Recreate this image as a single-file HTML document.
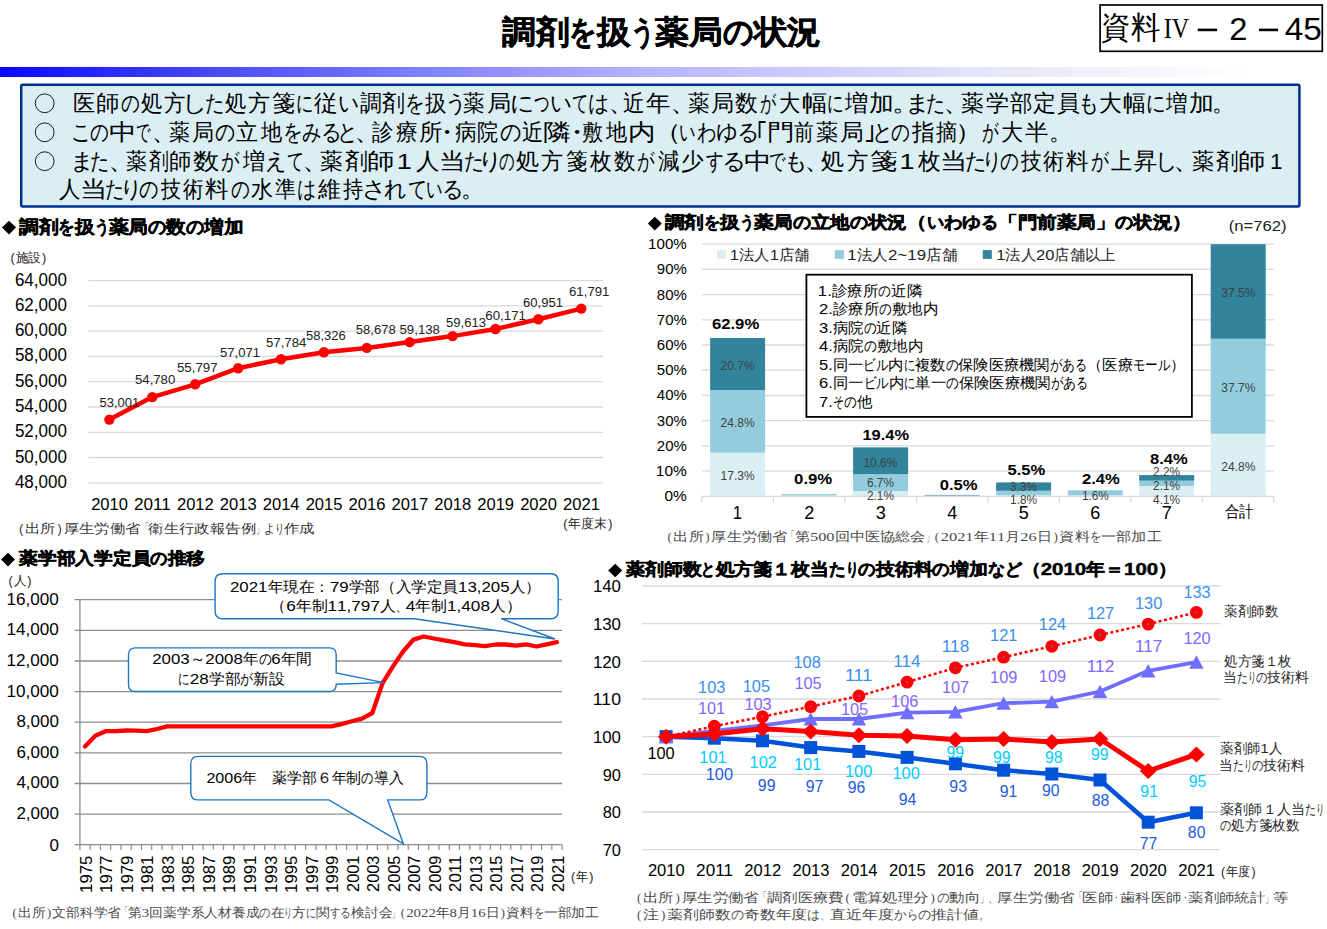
<!DOCTYPE html>
<html><head><meta charset="utf-8"><style>
html,body{margin:0;padding:0;background:#fff;overflow:hidden;width:1327px;height:929px;}
svg{display:block;}
</style></head><body>
<svg width="1327" height="929" viewBox="0 0 1327 929" font-family="'Liberation Sans', sans-serif">
<rect width="1327" height="929" fill="#fff"/>
<g font-size="32" font-weight="bold" fill="#000" stroke="#000" stroke-width="0.5"><text x="502.00" y="42.50" textLength="33.71" lengthAdjust="spacingAndGlyphs">調</text><text x="535.71" y="42.50" textLength="33.71" lengthAdjust="spacingAndGlyphs">剤</text><text x="569.41" y="42.50" textLength="27.94" lengthAdjust="spacingAndGlyphs">を</text><text x="597.35" y="42.50" textLength="33.71" lengthAdjust="spacingAndGlyphs">扱</text><text x="631.06" y="42.50" textLength="24.16" lengthAdjust="spacingAndGlyphs">う</text><text x="655.22" y="42.50" textLength="33.71" lengthAdjust="spacingAndGlyphs">薬</text><text x="688.92" y="42.50" textLength="33.71" lengthAdjust="spacingAndGlyphs">局</text><text x="722.63" y="42.50" textLength="30.96" lengthAdjust="spacingAndGlyphs">の</text><text x="753.59" y="42.50" textLength="33.71" lengthAdjust="spacingAndGlyphs">状</text><text x="787.29" y="42.50" textLength="33.71" lengthAdjust="spacingAndGlyphs">況</text></g>
<rect x="1100.1" y="5" width="222.2" height="46.3" fill="none" stroke="#000" stroke-width="1.7"/>
<g font-size="31" fill="#000"><text x="1101.30" y="37.80" textLength="29.30" lengthAdjust="spacingAndGlyphs">資</text><text x="1130.60" y="37.80" textLength="29.30" lengthAdjust="spacingAndGlyphs">料</text></g>
<text x="1163.80" y="37.90" font-size="30" font-family="'Liberation Serif', serif" textLength="25.43" lengthAdjust="spacingAndGlyphs" fill="#000">IV</text>
<rect x="1197.7" y="28.6" width="19.4" height="2.6" fill="#000"/>
<rect x="1258.9" y="28.6" width="19.1" height="2.6" fill="#000"/>
<text x="1229.35" y="39.70" font-size="31" textLength="18.16" lengthAdjust="spacingAndGlyphs" fill="#000">2</text>
<text x="1284.70" y="39.70" font-size="31" textLength="37.14" lengthAdjust="spacingAndGlyphs" fill="#000">45</text>
<defs><linearGradient id="gb" x1="0" x2="1" y1="0" y2="0"><stop offset="0" stop-color="#0808FF"/><stop offset="0.15" stop-color="#4545FF"/><stop offset="0.30" stop-color="#7A7AFF"/><stop offset="0.49" stop-color="#B5B5FF"/><stop offset="0.75" stop-color="#E6E6FA"/><stop offset="0.94" stop-color="#FFFFFF"/><stop offset="1" stop-color="#FFFFFF"/></linearGradient></defs>
<rect x="0" y="67" width="1327" height="10" fill="url(#gb)"/>
<rect x="21.2" y="84.7" width="1278.2" height="121.8" rx="1.5" fill="#DAEEF3" stroke="#00308F" stroke-width="2.5"/>
<circle cx="44.7" cy="103.3" r="9.4" fill="none" stroke="#111" stroke-width="0.95"/>
<circle cx="44.7" cy="132.3" r="9.4" fill="none" stroke="#111" stroke-width="0.95"/>
<circle cx="44.7" cy="161.2" r="9.4" fill="none" stroke="#111" stroke-width="0.95"/>
<g font-size="22.5" fill="#000"><text x="73.04" y="110.80" textLength="22.16" lengthAdjust="spacingAndGlyphs">医</text><text x="96.18" y="110.80" textLength="23.55" lengthAdjust="spacingAndGlyphs">師</text><text x="120.70" y="110.80" textLength="19.53" lengthAdjust="spacingAndGlyphs">の</text><text x="140.60" y="110.80" textLength="21.50" lengthAdjust="spacingAndGlyphs">処</text><text x="164.10" y="110.80" textLength="21.50" lengthAdjust="spacingAndGlyphs">方</text><text x="182.23" y="110.80" textLength="25.76" lengthAdjust="spacingAndGlyphs">し</text><text x="204.86" y="110.80" textLength="20.16" lengthAdjust="spacingAndGlyphs">た</text><text x="224.50" y="110.80" textLength="21.50" lengthAdjust="spacingAndGlyphs">処</text><text x="248.00" y="110.80" textLength="22.20" lengthAdjust="spacingAndGlyphs">方</text><text x="272.20" y="110.80" textLength="23.30" lengthAdjust="spacingAndGlyphs">箋</text><text x="295.99" y="110.80" textLength="18.06" lengthAdjust="spacingAndGlyphs">に</text><text x="313.80" y="110.80" textLength="23.73" lengthAdjust="spacingAndGlyphs">従</text><text x="337.60" y="110.80" textLength="21.71" lengthAdjust="spacingAndGlyphs">い</text><text x="359.50" y="110.80" textLength="21.85" lengthAdjust="spacingAndGlyphs">調</text><text x="382.40" y="110.80" textLength="23.10" lengthAdjust="spacingAndGlyphs">剤</text><text x="404.81" y="110.80" textLength="20.34" lengthAdjust="spacingAndGlyphs">を</text><text x="424.60" y="110.80" textLength="21.50" lengthAdjust="spacingAndGlyphs">扱</text><text x="445.29" y="110.80" textLength="22.46" lengthAdjust="spacingAndGlyphs">う</text><text x="463.20" y="110.80" textLength="21.50" lengthAdjust="spacingAndGlyphs">薬</text><text x="486.70" y="110.80" textLength="24.25" lengthAdjust="spacingAndGlyphs">局</text><text x="509.83" y="110.80" textLength="24.88" lengthAdjust="spacingAndGlyphs">に</text><text x="533.60" y="110.80" textLength="16.25" lengthAdjust="spacingAndGlyphs">つ</text><text x="549.56" y="110.80" textLength="22.51" lengthAdjust="spacingAndGlyphs">い</text><text x="572.20" y="110.80" textLength="16.91" lengthAdjust="spacingAndGlyphs">て</text><text x="588.09" y="110.80" textLength="21.83" lengthAdjust="spacingAndGlyphs">は</text><text x="607.70" y="110.80" textLength="27.60" lengthAdjust="spacingAndGlyphs">、</text><text x="623.40" y="110.80" textLength="21.64" lengthAdjust="spacingAndGlyphs">近</text><text x="646.10" y="110.80" textLength="24.50" lengthAdjust="spacingAndGlyphs">年</text><text x="670.20" y="110.80" textLength="27.60" lengthAdjust="spacingAndGlyphs">、</text><text x="687.60" y="110.80" textLength="21.50" lengthAdjust="spacingAndGlyphs">薬</text><text x="711.10" y="110.80" textLength="23.10" lengthAdjust="spacingAndGlyphs">局</text><text x="735.20" y="110.80" textLength="22.80" lengthAdjust="spacingAndGlyphs">数</text><text x="760.00" y="110.80" textLength="16.70" lengthAdjust="spacingAndGlyphs">が</text><text x="778.70" y="110.80" textLength="21.20" lengthAdjust="spacingAndGlyphs">大</text><text x="801.90" y="110.80" textLength="25.61" lengthAdjust="spacingAndGlyphs">幅</text><text x="826.96" y="110.80" textLength="17.31" lengthAdjust="spacingAndGlyphs">に</text><text x="845.11" y="110.80" textLength="23.30" lengthAdjust="spacingAndGlyphs">増</text><text x="869.40" y="110.80" textLength="24.86" lengthAdjust="spacingAndGlyphs">加</text><text x="891.70" y="110.80" textLength="27.60" lengthAdjust="spacingAndGlyphs">。</text><text x="904.91" y="110.80" textLength="25.76" lengthAdjust="spacingAndGlyphs">ま</text><text x="926.48" y="110.80" textLength="19.68" lengthAdjust="spacingAndGlyphs">た</text><text x="943.30" y="110.80" textLength="27.60" lengthAdjust="spacingAndGlyphs">、</text><text x="960.70" y="110.80" textLength="22.80" lengthAdjust="spacingAndGlyphs">薬</text><text x="985.50" y="110.80" textLength="23.10" lengthAdjust="spacingAndGlyphs">学</text><text x="1009.60" y="110.80" textLength="22.48" lengthAdjust="spacingAndGlyphs">部</text><text x="1033.10" y="110.80" textLength="23.10" lengthAdjust="spacingAndGlyphs">定</text><text x="1057.20" y="110.80" textLength="22.80" lengthAdjust="spacingAndGlyphs">員</text><text x="1078.38" y="110.80" textLength="21.75" lengthAdjust="spacingAndGlyphs">も</text><text x="1098.50" y="110.80" textLength="22.70" lengthAdjust="spacingAndGlyphs">大</text><text x="1123.20" y="110.80" textLength="23.10" lengthAdjust="spacingAndGlyphs">幅</text><text x="1145.61" y="110.80" textLength="20.34" lengthAdjust="spacingAndGlyphs">に</text><text x="1166.33" y="110.80" textLength="21.50" lengthAdjust="spacingAndGlyphs">増</text><text x="1188.90" y="110.80" textLength="24.97" lengthAdjust="spacingAndGlyphs">加</text><text x="1211.70" y="110.80" textLength="23.00" lengthAdjust="spacingAndGlyphs">。</text></g>
<g font-size="22.5" fill="#000"><text x="71.35" y="140.30" textLength="21.04" lengthAdjust="spacingAndGlyphs">こ</text><text x="90.00" y="140.30" textLength="19.53" lengthAdjust="spacingAndGlyphs">の</text><text x="108.70" y="140.30" textLength="27.60" lengthAdjust="spacingAndGlyphs">中</text><text x="136.38" y="140.30" textLength="14.92" lengthAdjust="spacingAndGlyphs">で</text><text x="150.90" y="140.30" textLength="27.60" lengthAdjust="spacingAndGlyphs">、</text><text x="168.90" y="140.30" textLength="20.90" lengthAdjust="spacingAndGlyphs">薬</text><text x="191.80" y="140.30" textLength="22.06" lengthAdjust="spacingAndGlyphs">局</text><text x="214.90" y="140.30" textLength="20.84" lengthAdjust="spacingAndGlyphs">の</text><text x="236.00" y="140.30" textLength="22.10" lengthAdjust="spacingAndGlyphs">立</text><text x="261.02" y="140.30" textLength="21.18" lengthAdjust="spacingAndGlyphs">地</text><text x="282.51" y="140.30" textLength="20.34" lengthAdjust="spacingAndGlyphs">を</text><text x="302.30" y="140.30" textLength="20.18" lengthAdjust="spacingAndGlyphs">み</text><text x="321.01" y="140.30" textLength="21.47" lengthAdjust="spacingAndGlyphs">る</text><text x="337.27" y="140.30" textLength="21.76" lengthAdjust="spacingAndGlyphs">と</text><text x="354.10" y="140.30" textLength="27.60" lengthAdjust="spacingAndGlyphs">、</text><text x="372.10" y="140.30" textLength="21.50" lengthAdjust="spacingAndGlyphs">診</text><text x="395.60" y="140.30" textLength="21.85" lengthAdjust="spacingAndGlyphs">療</text><text x="418.50" y="140.30" textLength="23.50" lengthAdjust="spacingAndGlyphs">所</text><text x="433.20" y="140.30" textLength="27.60" lengthAdjust="spacingAndGlyphs">・</text><text x="454.70" y="140.30" textLength="21.85" lengthAdjust="spacingAndGlyphs">病</text><text x="476.68" y="140.30" textLength="21.12" lengthAdjust="spacingAndGlyphs">院</text><text x="499.80" y="140.30" textLength="22.15" lengthAdjust="spacingAndGlyphs">の</text><text x="522.10" y="140.30" textLength="21.22" lengthAdjust="spacingAndGlyphs">近</text><text x="543.20" y="140.30" textLength="27.60" lengthAdjust="spacingAndGlyphs">隣</text><text x="562.60" y="140.30" textLength="27.60" lengthAdjust="spacingAndGlyphs">・</text><text x="581.80" y="140.30" textLength="20.90" lengthAdjust="spacingAndGlyphs">敷</text><text x="605.62" y="140.30" textLength="21.18" lengthAdjust="spacingAndGlyphs">地</text><text x="627.60" y="140.30" textLength="27.60" lengthAdjust="spacingAndGlyphs">内</text><text x="654.13" y="140.30" textLength="27.22" lengthAdjust="spacingAndGlyphs">（</text><text x="679.09" y="140.30" textLength="17.03" lengthAdjust="spacingAndGlyphs">い</text><text x="696.70" y="140.30" textLength="20.18" lengthAdjust="spacingAndGlyphs">わ</text><text x="716.26" y="140.30" textLength="22.51" lengthAdjust="spacingAndGlyphs">ゆ</text><text x="736.98" y="140.30" textLength="23.07" lengthAdjust="spacingAndGlyphs">る</text><text x="754.94" y="140.30" textLength="13.03" lengthAdjust="spacingAndGlyphs">｢</text><text x="766.60" y="140.30" textLength="27.60" lengthAdjust="spacingAndGlyphs">門</text><text x="793.90" y="140.30" textLength="19.80" lengthAdjust="spacingAndGlyphs">前</text><text x="815.70" y="140.30" textLength="22.20" lengthAdjust="spacingAndGlyphs">薬</text><text x="839.90" y="140.30" textLength="23.73" lengthAdjust="spacingAndGlyphs">局</text><text x="863.50" y="140.30" textLength="13.20" lengthAdjust="spacingAndGlyphs">｣</text><text x="871.75" y="140.30" textLength="21.92" lengthAdjust="spacingAndGlyphs">と</text><text x="891.10" y="140.30" textLength="19.53" lengthAdjust="spacingAndGlyphs">の</text><text x="911.99" y="140.30" textLength="22.70" lengthAdjust="spacingAndGlyphs">指</text><text x="935.70" y="140.30" textLength="21.20" lengthAdjust="spacingAndGlyphs">摘</text><text x="955.30" y="140.30" textLength="27.60" lengthAdjust="spacingAndGlyphs">）</text><text x="981.80" y="140.30" textLength="17.30" lengthAdjust="spacingAndGlyphs">が</text><text x="1001.10" y="140.30" textLength="22.10" lengthAdjust="spacingAndGlyphs">大</text><text x="1025.20" y="140.30" textLength="23.40" lengthAdjust="spacingAndGlyphs">半</text><text x="1048.60" y="140.30" textLength="23.00" lengthAdjust="spacingAndGlyphs">。</text></g>
<g font-size="22.5" fill="#000"><text x="69.57" y="168.70" textLength="24.80" lengthAdjust="spacingAndGlyphs">ま</text><text x="90.37" y="168.70" textLength="20.04" lengthAdjust="spacingAndGlyphs">た</text><text x="107.50" y="168.70" textLength="27.60" lengthAdjust="spacingAndGlyphs">、</text><text x="126.10" y="168.70" textLength="20.90" lengthAdjust="spacingAndGlyphs">薬</text><text x="149.00" y="168.70" textLength="19.97" lengthAdjust="spacingAndGlyphs">剤</text><text x="169.13" y="168.70" textLength="22.34" lengthAdjust="spacingAndGlyphs">師</text><text x="192.50" y="168.70" textLength="26.40" lengthAdjust="spacingAndGlyphs">数</text><text x="220.90" y="168.70" textLength="19.10" lengthAdjust="spacingAndGlyphs">が</text><text x="242.96" y="168.70" textLength="22.10" lengthAdjust="spacingAndGlyphs">増</text><text x="265.18" y="168.70" textLength="22.20" lengthAdjust="spacingAndGlyphs">え</text><text x="286.60" y="168.70" textLength="17.71" lengthAdjust="spacingAndGlyphs">て</text><text x="301.70" y="168.70" textLength="27.60" lengthAdjust="spacingAndGlyphs">、</text><text x="319.80" y="168.70" textLength="22.70" lengthAdjust="spacingAndGlyphs">薬</text><text x="344.50" y="168.70" textLength="23.00" lengthAdjust="spacingAndGlyphs">剤</text><text x="367.30" y="168.70" textLength="27.60" lengthAdjust="spacingAndGlyphs">師</text><text x="396.80" y="168.70" textLength="15.02" lengthAdjust="spacingAndGlyphs">1</text><text x="416.10" y="168.70" textLength="23.40" lengthAdjust="spacingAndGlyphs">人</text><text x="439.18" y="168.70" textLength="26.71" lengthAdjust="spacingAndGlyphs">当</text><text x="463.53" y="168.70" textLength="20.76" lengthAdjust="spacingAndGlyphs">た</text><text x="478.47" y="168.70" textLength="25.11" lengthAdjust="spacingAndGlyphs">り</text><text x="499.30" y="168.70" textLength="16.15" lengthAdjust="spacingAndGlyphs">の</text><text x="516.10" y="168.70" textLength="23.30" lengthAdjust="spacingAndGlyphs">処</text><text x="541.40" y="168.70" textLength="22.10" lengthAdjust="spacingAndGlyphs">方</text><text x="565.50" y="168.70" textLength="21.50" lengthAdjust="spacingAndGlyphs">箋</text><text x="589.95" y="168.70" textLength="21.85" lengthAdjust="spacingAndGlyphs">枚</text><text x="613.80" y="168.70" textLength="21.50" lengthAdjust="spacingAndGlyphs">数</text><text x="637.30" y="168.70" textLength="18.20" lengthAdjust="spacingAndGlyphs">が</text><text x="657.50" y="168.70" textLength="21.50" lengthAdjust="spacingAndGlyphs">減</text><text x="681.00" y="168.70" textLength="22.70" lengthAdjust="spacingAndGlyphs">少</text><text x="705.70" y="168.70" textLength="18.22" lengthAdjust="spacingAndGlyphs">す</text><text x="722.34" y="168.70" textLength="24.67" lengthAdjust="spacingAndGlyphs">る</text><text x="743.70" y="168.70" textLength="27.60" lengthAdjust="spacingAndGlyphs">中</text><text x="769.49" y="168.70" textLength="17.01" lengthAdjust="spacingAndGlyphs">で</text><text x="784.45" y="168.70" textLength="24.30" lengthAdjust="spacingAndGlyphs">も</text><text x="804.30" y="168.70" textLength="27.60" lengthAdjust="spacingAndGlyphs">、</text><text x="821.20" y="168.70" textLength="23.30" lengthAdjust="spacingAndGlyphs">処</text><text x="846.50" y="168.70" textLength="21.50" lengthAdjust="spacingAndGlyphs">方</text><text x="870.00" y="168.70" textLength="27.60" lengthAdjust="spacingAndGlyphs">箋</text><text x="899.50" y="168.70" textLength="15.02" lengthAdjust="spacingAndGlyphs">1</text><text x="917.99" y="168.70" textLength="22.71" lengthAdjust="spacingAndGlyphs">枚</text><text x="940.31" y="168.70" textLength="27.47" lengthAdjust="spacingAndGlyphs">当</text><text x="965.28" y="168.70" textLength="22.20" lengthAdjust="spacingAndGlyphs">た</text><text x="982.39" y="168.70" textLength="20.68" lengthAdjust="spacingAndGlyphs">り</text><text x="999.90" y="168.70" textLength="19.53" lengthAdjust="spacingAndGlyphs">の</text><text x="1020.70" y="168.70" textLength="20.60" lengthAdjust="spacingAndGlyphs">技</text><text x="1043.30" y="168.70" textLength="20.90" lengthAdjust="spacingAndGlyphs">術</text><text x="1066.20" y="168.70" textLength="22.50" lengthAdjust="spacingAndGlyphs">料</text><text x="1090.70" y="168.70" textLength="18.50" lengthAdjust="spacingAndGlyphs">が</text><text x="1111.20" y="168.70" textLength="20.90" lengthAdjust="spacingAndGlyphs">上</text><text x="1134.10" y="168.70" textLength="23.30" lengthAdjust="spacingAndGlyphs">昇</text><text x="1154.60" y="168.70" textLength="23.04" lengthAdjust="spacingAndGlyphs">し</text><text x="1173.40" y="168.70" textLength="27.60" lengthAdjust="spacingAndGlyphs">、</text><text x="1191.50" y="168.70" textLength="22.10" lengthAdjust="spacingAndGlyphs">薬</text><text x="1215.60" y="168.70" textLength="22.69" lengthAdjust="spacingAndGlyphs">剤</text><text x="1238.10" y="168.70" textLength="27.60" lengthAdjust="spacingAndGlyphs">師</text><text x="1269.90" y="168.70" textLength="12.51" lengthAdjust="spacingAndGlyphs">1</text></g>
<g font-size="22.5" fill="#000"><text x="59.20" y="197.00" textLength="21.50" lengthAdjust="spacingAndGlyphs">人</text><text x="80.31" y="197.00" textLength="27.47" lengthAdjust="spacingAndGlyphs">当</text><text x="105.37" y="197.00" textLength="20.04" lengthAdjust="spacingAndGlyphs">た</text><text x="120.09" y="197.00" textLength="23.08" lengthAdjust="spacingAndGlyphs">り</text><text x="139.40" y="197.00" textLength="20.18" lengthAdjust="spacingAndGlyphs">の</text><text x="160.77" y="197.00" textLength="20.03" lengthAdjust="spacingAndGlyphs">技</text><text x="182.80" y="197.00" textLength="20.30" lengthAdjust="spacingAndGlyphs">術</text><text x="205.10" y="197.00" textLength="23.50" lengthAdjust="spacingAndGlyphs">料</text><text x="230.60" y="197.00" textLength="19.53" lengthAdjust="spacingAndGlyphs">の</text><text x="250.50" y="197.00" textLength="22.10" lengthAdjust="spacingAndGlyphs">水</text><text x="274.60" y="197.00" textLength="20.90" lengthAdjust="spacingAndGlyphs">準</text><text x="296.68" y="197.00" textLength="19.77" lengthAdjust="spacingAndGlyphs">は</text><text x="317.80" y="197.00" textLength="22.90" lengthAdjust="spacingAndGlyphs">維</text><text x="342.70" y="197.00" textLength="20.20" lengthAdjust="spacingAndGlyphs">持</text><text x="361.77" y="197.00" textLength="25.05" lengthAdjust="spacingAndGlyphs">さ</text><text x="383.60" y="197.00" textLength="23.06" lengthAdjust="spacingAndGlyphs">れ</text><text x="407.70" y="197.00" textLength="19.77" lengthAdjust="spacingAndGlyphs">て</text><text x="426.29" y="197.00" textLength="17.03" lengthAdjust="spacingAndGlyphs">い</text><text x="442.04" y="197.00" textLength="22.27" lengthAdjust="spacingAndGlyphs">る</text><text x="460.60" y="197.00" textLength="23.00" lengthAdjust="spacingAndGlyphs">。</text></g>
<path d="M9.0,220.8 L16.0,227.6 L9.0,234.4 L2.0,227.6 Z" fill="#000"/>
<g font-size="17.5" font-weight="bold" fill="#000" stroke="#000" stroke-width="0.45"><text x="19.00" y="233.10" textLength="19.73" lengthAdjust="spacingAndGlyphs">調</text><text x="38.73" y="233.10" textLength="19.73" lengthAdjust="spacingAndGlyphs">剤</text><text x="58.46" y="233.10" textLength="16.35" lengthAdjust="spacingAndGlyphs">を</text><text x="74.82" y="233.10" textLength="19.73" lengthAdjust="spacingAndGlyphs">扱</text><text x="94.55" y="233.10" textLength="14.14" lengthAdjust="spacingAndGlyphs">う</text><text x="108.69" y="233.10" textLength="19.73" lengthAdjust="spacingAndGlyphs">薬</text><text x="128.43" y="233.10" textLength="19.73" lengthAdjust="spacingAndGlyphs">局</text><text x="148.16" y="233.10" textLength="18.12" lengthAdjust="spacingAndGlyphs">の</text><text x="166.28" y="233.10" textLength="19.73" lengthAdjust="spacingAndGlyphs">数</text><text x="186.01" y="233.10" textLength="18.12" lengthAdjust="spacingAndGlyphs">の</text><text x="204.13" y="233.10" textLength="19.73" lengthAdjust="spacingAndGlyphs">増</text><text x="223.86" y="233.10" textLength="19.73" lengthAdjust="spacingAndGlyphs">加</text></g>
<g font-size="12.5" fill="#222"><text x="10.56" y="261.70">(</text><text x="15.79" y="261.70" textLength="12.58" lengthAdjust="spacingAndGlyphs">施</text><text x="28.37" y="261.70" textLength="12.58" lengthAdjust="spacingAndGlyphs">設</text><text x="42.02" y="261.70">)</text></g>
<line x1="88.3" x2="603" y1="482.8" y2="482.8" stroke="#D9D9D9" stroke-width="1.3"/>
<text x="14.90" y="487.80" font-size="17.5" textLength="51.94" lengthAdjust="spacingAndGlyphs" fill="#000">48,000</text>
<line x1="88.3" x2="603" y1="457.5" y2="457.5" stroke="#D9D9D9" stroke-width="1.3"/>
<text x="14.90" y="462.53" font-size="17.5" textLength="51.94" lengthAdjust="spacingAndGlyphs" fill="#000">50,000</text>
<line x1="88.3" x2="603" y1="432.3" y2="432.3" stroke="#D9D9D9" stroke-width="1.3"/>
<text x="14.90" y="437.26" font-size="17.5" textLength="51.94" lengthAdjust="spacingAndGlyphs" fill="#000">52,000</text>
<line x1="88.3" x2="603" y1="407.0" y2="407.0" stroke="#D9D9D9" stroke-width="1.3"/>
<text x="14.90" y="411.99" font-size="17.5" textLength="51.94" lengthAdjust="spacingAndGlyphs" fill="#000">54,000</text>
<line x1="88.3" x2="603" y1="381.7" y2="381.7" stroke="#D9D9D9" stroke-width="1.3"/>
<text x="14.90" y="386.73" font-size="17.5" textLength="51.94" lengthAdjust="spacingAndGlyphs" fill="#000">56,000</text>
<line x1="88.3" x2="603" y1="356.5" y2="356.5" stroke="#D9D9D9" stroke-width="1.3"/>
<text x="14.90" y="361.46" font-size="17.5" textLength="51.94" lengthAdjust="spacingAndGlyphs" fill="#000">58,000</text>
<line x1="88.3" x2="603" y1="331.2" y2="331.2" stroke="#D9D9D9" stroke-width="1.3"/>
<text x="14.90" y="336.19" font-size="17.5" textLength="51.94" lengthAdjust="spacingAndGlyphs" fill="#000">60,000</text>
<line x1="88.3" x2="603" y1="305.9" y2="305.9" stroke="#D9D9D9" stroke-width="1.3"/>
<text x="14.90" y="310.92" font-size="17.5" textLength="51.94" lengthAdjust="spacingAndGlyphs" fill="#000">62,000</text>
<line x1="88.3" x2="603" y1="280.6" y2="280.6" stroke="#D9D9D9" stroke-width="1.3"/>
<text x="14.90" y="285.65" font-size="17.5" textLength="51.94" lengthAdjust="spacingAndGlyphs" fill="#000">64,000</text>
<polyline points="109.4,419.6 152.3,397.1 195.2,384.3 238.1,368.2 281.0,359.2 323.9,352.3 366.8,347.9 409.7,342.1 452.6,336.1 495.5,329.0 538.4,319.2 581.3,308.6" fill="none" stroke="#FF0000" stroke-width="4.5" stroke-linejoin="round"/>
<circle cx="109.4" cy="419.6" r="5.2" fill="#FF0000"/>
<circle cx="152.3" cy="397.1" r="5.2" fill="#FF0000"/>
<circle cx="195.2" cy="384.3" r="5.2" fill="#FF0000"/>
<circle cx="238.1" cy="368.2" r="5.2" fill="#FF0000"/>
<circle cx="281.0" cy="359.2" r="5.2" fill="#FF0000"/>
<circle cx="323.9" cy="352.3" r="5.2" fill="#FF0000"/>
<circle cx="366.8" cy="347.9" r="5.2" fill="#FF0000"/>
<circle cx="409.7" cy="342.1" r="5.2" fill="#FF0000"/>
<circle cx="452.6" cy="336.1" r="5.2" fill="#FF0000"/>
<circle cx="495.5" cy="329.0" r="5.2" fill="#FF0000"/>
<circle cx="538.4" cy="319.2" r="5.2" fill="#FF0000"/>
<circle cx="581.3" cy="308.6" r="5.2" fill="#FF0000"/>
<text x="99.50" y="407.10" font-size="12.5" textLength="39.75" lengthAdjust="spacingAndGlyphs" fill="#222">53,001</text>
<text x="135.00" y="383.80" font-size="12.5" textLength="40.25" lengthAdjust="spacingAndGlyphs" fill="#222">54,780</text>
<text x="177.00" y="372.10" font-size="12.5" textLength="40.55" lengthAdjust="spacingAndGlyphs" fill="#222">55,797</text>
<text x="220.00" y="357.00" font-size="12.5" textLength="39.95" lengthAdjust="spacingAndGlyphs" fill="#222">57,071</text>
<text x="266.00" y="347.30" font-size="12.5" textLength="40.35" lengthAdjust="spacingAndGlyphs" fill="#222">57,784</text>
<text x="306.00" y="340.40" font-size="12.5" textLength="39.75" lengthAdjust="spacingAndGlyphs" fill="#222">58,326</text>
<text x="355.80" y="333.50" font-size="12.5" textLength="39.95" lengthAdjust="spacingAndGlyphs" fill="#222">58,678</text>
<text x="399.50" y="333.50" font-size="12.5" textLength="40.45" lengthAdjust="spacingAndGlyphs" fill="#222">59,138</text>
<text x="446.00" y="326.80" font-size="12.5" textLength="39.95" lengthAdjust="spacingAndGlyphs" fill="#222">59,613</text>
<text x="485.30" y="320.20" font-size="12.5" textLength="40.65" lengthAdjust="spacingAndGlyphs" fill="#222">60,171</text>
<text x="523.00" y="307.20" font-size="12.5" textLength="39.95" lengthAdjust="spacingAndGlyphs" fill="#222">60,951</text>
<text x="569.00" y="296.00" font-size="12.5" textLength="40.45" lengthAdjust="spacingAndGlyphs" fill="#222">61,791</text>
<text x="91.15" y="510.40" font-size="16.8" textLength="36.83" lengthAdjust="spacingAndGlyphs" fill="#000">2010</text>
<text x="134.05" y="510.40" font-size="16.8" textLength="36.84" lengthAdjust="spacingAndGlyphs" fill="#000">2011</text>
<text x="176.95" y="510.40" font-size="16.8" textLength="36.83" lengthAdjust="spacingAndGlyphs" fill="#000">2012</text>
<text x="219.85" y="510.40" font-size="16.8" textLength="36.83" lengthAdjust="spacingAndGlyphs" fill="#000">2013</text>
<text x="262.75" y="510.40" font-size="16.8" textLength="36.83" lengthAdjust="spacingAndGlyphs" fill="#000">2014</text>
<text x="305.65" y="510.40" font-size="16.8" textLength="36.83" lengthAdjust="spacingAndGlyphs" fill="#000">2015</text>
<text x="348.55" y="510.40" font-size="16.8" textLength="36.83" lengthAdjust="spacingAndGlyphs" fill="#000">2016</text>
<text x="391.45" y="510.40" font-size="16.8" textLength="36.83" lengthAdjust="spacingAndGlyphs" fill="#000">2017</text>
<text x="434.35" y="510.40" font-size="16.8" textLength="36.83" lengthAdjust="spacingAndGlyphs" fill="#000">2018</text>
<text x="477.25" y="510.40" font-size="16.8" textLength="36.83" lengthAdjust="spacingAndGlyphs" fill="#000">2019</text>
<text x="520.15" y="510.40" font-size="16.8" textLength="36.83" lengthAdjust="spacingAndGlyphs" fill="#000">2020</text>
<text x="563.05" y="510.40" font-size="16.8" textLength="36.83" lengthAdjust="spacingAndGlyphs" fill="#000">2021</text>
<g font-size="12.5" fill="#222"><text x="563.15" y="528.20">(</text><text x="568.46" y="528.20" textLength="12.91" lengthAdjust="spacingAndGlyphs">年</text><text x="581.37" y="528.20" textLength="12.91" lengthAdjust="spacingAndGlyphs">度</text><text x="594.28" y="528.20" textLength="12.91" lengthAdjust="spacingAndGlyphs">末</text><text x="608.34" y="528.20">)</text></g>
<g font-size="13" fill="#333"><text x="19.08" y="532.70">(</text><text x="25.10" y="532.70" textLength="15.39" lengthAdjust="spacingAndGlyphs">出</text><text x="40.49" y="532.70" textLength="15.39" lengthAdjust="spacingAndGlyphs">所</text><text x="57.56" y="532.70">)</text><text x="63.57" y="532.70" textLength="15.39" lengthAdjust="spacingAndGlyphs">厚</text><text x="78.96" y="532.70" textLength="15.39" lengthAdjust="spacingAndGlyphs">生</text><text x="94.35" y="532.70" textLength="15.39" lengthAdjust="spacingAndGlyphs">労</text><text x="109.75" y="532.70" textLength="15.39" lengthAdjust="spacingAndGlyphs">働</text><text x="125.14" y="532.70" textLength="15.39" lengthAdjust="spacingAndGlyphs">省</text><text x="140.53" y="532.70" textLength="7.70" lengthAdjust="spacingAndGlyphs">「</text><text x="148.22" y="532.70" textLength="15.39" lengthAdjust="spacingAndGlyphs">衛</text><text x="163.61" y="532.70" textLength="15.39" lengthAdjust="spacingAndGlyphs">生</text><text x="179.01" y="532.70" textLength="15.39" lengthAdjust="spacingAndGlyphs">行</text><text x="194.40" y="532.70" textLength="15.39" lengthAdjust="spacingAndGlyphs">政</text><text x="209.79" y="532.70" textLength="15.39" lengthAdjust="spacingAndGlyphs">報</text><text x="225.18" y="532.70" textLength="15.39" lengthAdjust="spacingAndGlyphs">告</text><text x="240.57" y="532.70" textLength="15.39" lengthAdjust="spacingAndGlyphs">例</text><text x="255.96" y="532.70" textLength="7.70" lengthAdjust="spacingAndGlyphs">」</text><text x="263.66" y="532.70" textLength="11.08" lengthAdjust="spacingAndGlyphs">よ</text><text x="274.74" y="532.70" textLength="9.08" lengthAdjust="spacingAndGlyphs">り</text><text x="283.82" y="532.70" textLength="15.39" lengthAdjust="spacingAndGlyphs">作</text><text x="299.21" y="532.70" textLength="15.39" lengthAdjust="spacingAndGlyphs">成</text></g>
<path d="M654.8,216.8 L661.8,223.6 L654.8,230.4 L647.8,223.6 Z" fill="#000"/>
<g font-size="17" font-weight="bold" fill="#000" stroke="#000" stroke-width="0.45"><text x="664.90" y="228.20" textLength="19.55" lengthAdjust="spacingAndGlyphs">調</text><text x="684.45" y="228.20" textLength="19.55" lengthAdjust="spacingAndGlyphs">剤</text><text x="704.01" y="228.20" textLength="16.21" lengthAdjust="spacingAndGlyphs">を</text><text x="720.21" y="228.20" textLength="19.55" lengthAdjust="spacingAndGlyphs">扱</text><text x="739.77" y="228.20" textLength="14.02" lengthAdjust="spacingAndGlyphs">う</text><text x="753.78" y="228.20" textLength="19.55" lengthAdjust="spacingAndGlyphs">薬</text><text x="773.34" y="228.20" textLength="19.55" lengthAdjust="spacingAndGlyphs">局</text><text x="792.89" y="228.20" textLength="17.96" lengthAdjust="spacingAndGlyphs">の</text><text x="810.85" y="228.20" textLength="19.55" lengthAdjust="spacingAndGlyphs">立</text><text x="830.40" y="228.20" textLength="19.55" lengthAdjust="spacingAndGlyphs">地</text><text x="849.95" y="228.20" textLength="17.96" lengthAdjust="spacingAndGlyphs">の</text><text x="867.91" y="228.20" textLength="19.55" lengthAdjust="spacingAndGlyphs">状</text><text x="887.46" y="228.20" textLength="19.55" lengthAdjust="spacingAndGlyphs">況</text><text x="907.02" y="228.20" textLength="19.55" lengthAdjust="spacingAndGlyphs">（</text><text x="926.57" y="228.20" textLength="17.08" lengthAdjust="spacingAndGlyphs">い</text><text x="943.65" y="228.20" textLength="18.40" lengthAdjust="spacingAndGlyphs">わ</text><text x="962.05" y="228.20" textLength="18.83" lengthAdjust="spacingAndGlyphs">ゆ</text><text x="980.88" y="228.20" textLength="17.08" lengthAdjust="spacingAndGlyphs">る</text><text x="997.96" y="228.20" textLength="19.55" lengthAdjust="spacingAndGlyphs">「</text><text x="1017.52" y="228.20" textLength="19.55" lengthAdjust="spacingAndGlyphs">門</text><text x="1037.07" y="228.20" textLength="19.55" lengthAdjust="spacingAndGlyphs">前</text><text x="1056.62" y="228.20" textLength="19.55" lengthAdjust="spacingAndGlyphs">薬</text><text x="1076.18" y="228.20" textLength="19.55" lengthAdjust="spacingAndGlyphs">局</text><text x="1095.73" y="228.20" textLength="19.55" lengthAdjust="spacingAndGlyphs">」</text><text x="1115.28" y="228.20" textLength="17.96" lengthAdjust="spacingAndGlyphs">の</text><text x="1133.24" y="228.20" textLength="19.55" lengthAdjust="spacingAndGlyphs">状</text><text x="1152.80" y="228.20" textLength="19.55" lengthAdjust="spacingAndGlyphs">況</text><text x="1172.35" y="228.20" textLength="19.55" lengthAdjust="spacingAndGlyphs">）</text></g>
<text x="1228.70" y="231.30" font-size="14" textLength="57.89" lengthAdjust="spacingAndGlyphs" fill="#222">(n=762)</text>
<line x1="701.9" x2="1273.9" y1="471.1" y2="471.1" stroke="#D9D9D9" stroke-width="1.3"/>
<line x1="701.9" x2="1273.9" y1="445.9" y2="445.9" stroke="#D9D9D9" stroke-width="1.3"/>
<line x1="701.9" x2="1273.9" y1="420.7" y2="420.7" stroke="#D9D9D9" stroke-width="1.3"/>
<line x1="701.9" x2="1273.9" y1="395.5" y2="395.5" stroke="#D9D9D9" stroke-width="1.3"/>
<line x1="701.9" x2="1273.9" y1="370.2" y2="370.2" stroke="#D9D9D9" stroke-width="1.3"/>
<line x1="701.9" x2="1273.9" y1="345.0" y2="345.0" stroke="#D9D9D9" stroke-width="1.3"/>
<line x1="701.9" x2="1273.9" y1="319.8" y2="319.8" stroke="#D9D9D9" stroke-width="1.3"/>
<line x1="701.9" x2="1273.9" y1="294.6" y2="294.6" stroke="#D9D9D9" stroke-width="1.3"/>
<line x1="701.9" x2="1273.9" y1="269.4" y2="269.4" stroke="#D9D9D9" stroke-width="1.3"/>
<line x1="701.9" x2="1273.9" y1="244.2" y2="244.2" stroke="#D9D9D9" stroke-width="1.3"/>
<text x="664.50" y="501.30" font-size="15.5" textLength="22.28" lengthAdjust="spacingAndGlyphs" fill="#000">0%</text>
<text x="655.80" y="476.09" font-size="15.5" textLength="30.98" lengthAdjust="spacingAndGlyphs" fill="#000">10%</text>
<text x="656.80" y="450.88" font-size="15.5" textLength="29.99" lengthAdjust="spacingAndGlyphs" fill="#000">20%</text>
<text x="656.80" y="425.67" font-size="15.5" textLength="29.99" lengthAdjust="spacingAndGlyphs" fill="#000">30%</text>
<text x="656.80" y="400.46" font-size="15.5" textLength="29.99" lengthAdjust="spacingAndGlyphs" fill="#000">40%</text>
<text x="656.80" y="375.25" font-size="15.5" textLength="29.99" lengthAdjust="spacingAndGlyphs" fill="#000">50%</text>
<text x="656.80" y="350.04" font-size="15.5" textLength="29.99" lengthAdjust="spacingAndGlyphs" fill="#000">60%</text>
<text x="656.80" y="324.83" font-size="15.5" textLength="29.99" lengthAdjust="spacingAndGlyphs" fill="#000">70%</text>
<text x="656.80" y="299.62" font-size="15.5" textLength="29.99" lengthAdjust="spacingAndGlyphs" fill="#000">80%</text>
<text x="656.80" y="274.41" font-size="15.5" textLength="29.99" lengthAdjust="spacingAndGlyphs" fill="#000">90%</text>
<text x="648.12" y="249.20" font-size="15.5" textLength="38.66" lengthAdjust="spacingAndGlyphs" fill="#000">100%</text>
<rect x="710.1" y="452.69" width="55" height="43.61" fill="#DAEEF3"/>
<rect x="710.1" y="390.17" width="55" height="62.52" fill="#93CDDD"/>
<rect x="710.1" y="337.98" width="55" height="52.18" fill="#31849B"/>
<rect x="781.6" y="495.54" width="55" height="0.76" fill="#DAEEF3"/>
<rect x="781.6" y="494.03" width="55" height="1.51" fill="#93CDDD"/>
<rect x="853.1" y="491.01" width="55" height="5.29" fill="#DAEEF3"/>
<rect x="853.1" y="474.12" width="55" height="16.89" fill="#93CDDD"/>
<rect x="853.1" y="447.39" width="55" height="26.72" fill="#31849B"/>
<rect x="924.6" y="496.05" width="55" height="0.25" fill="#DAEEF3"/>
<rect x="924.6" y="495.54" width="55" height="0.50" fill="#93CDDD"/>
<rect x="924.6" y="494.91" width="55" height="0.63" fill="#31849B"/>
<rect x="996.1" y="495.29" width="55" height="1.01" fill="#DAEEF3"/>
<rect x="996.1" y="490.75" width="55" height="4.54" fill="#93CDDD"/>
<rect x="996.1" y="482.43" width="55" height="8.32" fill="#31849B"/>
<rect x="1067.7" y="495.29" width="55" height="1.01" fill="#DAEEF3"/>
<rect x="1067.7" y="490.25" width="55" height="5.04" fill="#93CDDD"/>
<rect x="1139.2" y="485.96" width="55" height="10.34" fill="#DAEEF3"/>
<rect x="1139.2" y="480.67" width="55" height="5.29" fill="#93CDDD"/>
<rect x="1139.2" y="475.12" width="55" height="5.55" fill="#31849B"/>
<rect x="1210.7" y="433.78" width="55" height="62.52" fill="#DAEEF3"/>
<rect x="1210.7" y="338.74" width="55" height="95.04" fill="#93CDDD"/>
<rect x="1210.7" y="244.20" width="55" height="94.54" fill="#31849B"/>
<line x1="701.9" x2="1273.9" y1="496.3" y2="496.3" stroke="#D9D9D9" stroke-width="1.3"/>
<line x1="701.9" x2="701.9" y1="496.3" y2="502.5" stroke="#D9D9D9" stroke-width="1.3"/>
<line x1="773.4" x2="773.4" y1="496.3" y2="502.5" stroke="#D9D9D9" stroke-width="1.3"/>
<line x1="844.9" x2="844.9" y1="496.3" y2="502.5" stroke="#D9D9D9" stroke-width="1.3"/>
<line x1="916.4" x2="916.4" y1="496.3" y2="502.5" stroke="#D9D9D9" stroke-width="1.3"/>
<line x1="987.9" x2="987.9" y1="496.3" y2="502.5" stroke="#D9D9D9" stroke-width="1.3"/>
<line x1="1059.4" x2="1059.4" y1="496.3" y2="502.5" stroke="#D9D9D9" stroke-width="1.3"/>
<line x1="1130.9" x2="1130.9" y1="496.3" y2="502.5" stroke="#D9D9D9" stroke-width="1.3"/>
<line x1="1202.4" x2="1202.4" y1="496.3" y2="502.5" stroke="#D9D9D9" stroke-width="1.3"/>
<line x1="1273.9" x2="1273.9" y1="496.3" y2="502.5" stroke="#D9D9D9" stroke-width="1.3"/>
<text x="711.90" y="329.20" font-size="14.5" font-weight="bold" textLength="47.38" lengthAdjust="spacingAndGlyphs" fill="#000">62.9%</text>
<text x="794.10" y="484.20" font-size="14.5" font-weight="bold" textLength="38.18" lengthAdjust="spacingAndGlyphs" fill="#000">0.9%</text>
<text x="862.50" y="440.40" font-size="14.5" font-weight="bold" textLength="46.48" lengthAdjust="spacingAndGlyphs" fill="#000">19.4%</text>
<text x="939.70" y="490.10" font-size="14.5" font-weight="bold" textLength="37.88" lengthAdjust="spacingAndGlyphs" fill="#000">0.5%</text>
<text x="1007.50" y="475.40" font-size="14.5" font-weight="bold" textLength="37.78" lengthAdjust="spacingAndGlyphs" fill="#000">5.5%</text>
<text x="1081.90" y="484.00" font-size="14.5" font-weight="bold" textLength="37.88" lengthAdjust="spacingAndGlyphs" fill="#000">2.4%</text>
<text x="1150.00" y="464.20" font-size="14.5" font-weight="bold" textLength="37.78" lengthAdjust="spacingAndGlyphs" fill="#000">8.4%</text>
<text x="720.50" y="369.60" font-size="12.5" textLength="34.11" lengthAdjust="spacingAndGlyphs" fill="#404040">20.7%</text>
<text x="720.50" y="426.60" font-size="12.5" textLength="34.11" lengthAdjust="spacingAndGlyphs" fill="#404040">24.8%</text>
<text x="720.50" y="479.50" font-size="12.5" textLength="34.11" lengthAdjust="spacingAndGlyphs" fill="#404040">17.3%</text>
<text x="863.40" y="466.70" font-size="12.5" textLength="34.11" lengthAdjust="spacingAndGlyphs" fill="#404040">10.6%</text>
<text x="867.00" y="487.10" font-size="12.5" textLength="26.91" lengthAdjust="spacingAndGlyphs" fill="#404040">6.7%</text>
<text x="867.00" y="499.80" font-size="12.5" textLength="26.91" lengthAdjust="spacingAndGlyphs" fill="#404040">2.1%</text>
<text x="1010.10" y="491.40" font-size="12.5" textLength="26.91" lengthAdjust="spacingAndGlyphs" fill="#404040">3.3%</text>
<text x="1010.10" y="503.90" font-size="12.5" textLength="26.91" lengthAdjust="spacingAndGlyphs" fill="#404040">1.8%</text>
<text x="1081.90" y="500.10" font-size="12.5" textLength="26.91" lengthAdjust="spacingAndGlyphs" fill="#404040">1.6%</text>
<text x="1153.10" y="476.00" font-size="12.5" textLength="26.91" lengthAdjust="spacingAndGlyphs" fill="#404040">2.2%</text>
<text x="1153.10" y="490.10" font-size="12.5" textLength="26.91" lengthAdjust="spacingAndGlyphs" fill="#404040">2.1%</text>
<text x="1153.10" y="503.90" font-size="12.5" textLength="26.91" lengthAdjust="spacingAndGlyphs" fill="#404040">4.1%</text>
<text x="1221.30" y="296.60" font-size="12.5" textLength="34.11" lengthAdjust="spacingAndGlyphs" fill="#404040">37.5%</text>
<text x="1221.30" y="391.50" font-size="12.5" textLength="34.11" lengthAdjust="spacingAndGlyphs" fill="#404040">37.7%</text>
<text x="1221.30" y="470.70" font-size="12.5" textLength="34.11" lengthAdjust="spacingAndGlyphs" fill="#404040">24.8%</text>
<text x="732.70" y="519.10" font-size="18.5" textLength="9.26" lengthAdjust="spacingAndGlyphs" fill="#000">1</text>
<text x="804.25" y="519.10" font-size="18.5" textLength="10.08" lengthAdjust="spacingAndGlyphs" fill="#000">2</text>
<text x="875.75" y="519.10" font-size="18.5" textLength="10.08" lengthAdjust="spacingAndGlyphs" fill="#000">3</text>
<text x="947.25" y="519.10" font-size="18.5" textLength="10.08" lengthAdjust="spacingAndGlyphs" fill="#000">4</text>
<text x="1018.75" y="519.10" font-size="18.5" textLength="10.08" lengthAdjust="spacingAndGlyphs" fill="#000">5</text>
<text x="1090.25" y="519.10" font-size="18.5" textLength="10.08" lengthAdjust="spacingAndGlyphs" fill="#000">6</text>
<text x="1161.75" y="519.10" font-size="18.5" textLength="10.08" lengthAdjust="spacingAndGlyphs" fill="#000">7</text>
<g font-size="15.5" fill="#000"><text x="1224.50" y="517.40" textLength="14.40" lengthAdjust="spacingAndGlyphs">合</text><text x="1238.90" y="517.40" textLength="14.40" lengthAdjust="spacingAndGlyphs">計</text></g>
<rect x="716.9" y="250.1" width="9" height="8.8" fill="#DAEEF3"/>
<g font-size="14.5" fill="#222"><text x="729.86" y="260.20" textLength="9.21" lengthAdjust="spacingAndGlyphs">1</text><text x="739.07" y="260.20" textLength="15.33" lengthAdjust="spacingAndGlyphs">法</text><text x="754.40" y="260.20" textLength="15.33" lengthAdjust="spacingAndGlyphs">人</text><text x="769.73" y="260.20" textLength="9.21" lengthAdjust="spacingAndGlyphs">1</text><text x="778.94" y="260.20" textLength="15.33" lengthAdjust="spacingAndGlyphs">店</text><text x="794.27" y="260.20" textLength="15.33" lengthAdjust="spacingAndGlyphs">舗</text></g>
<rect x="834.9" y="250.1" width="9" height="8.8" fill="#93CDDD"/>
<g font-size="14.5" fill="#222"><text x="847.33" y="260.20" textLength="9.40" lengthAdjust="spacingAndGlyphs">1</text><text x="856.73" y="260.20" textLength="15.65" lengthAdjust="spacingAndGlyphs">法</text><text x="872.38" y="260.20" textLength="15.65" lengthAdjust="spacingAndGlyphs">人</text><text x="888.03" y="260.20" textLength="9.40" lengthAdjust="spacingAndGlyphs">2</text><text x="897.43" y="260.20" textLength="9.87" lengthAdjust="spacingAndGlyphs">~</text><text x="907.30" y="260.20" textLength="9.40" lengthAdjust="spacingAndGlyphs">1</text><text x="916.70" y="260.20" textLength="9.40" lengthAdjust="spacingAndGlyphs">9</text><text x="926.10" y="260.20" textLength="15.65" lengthAdjust="spacingAndGlyphs">店</text><text x="941.75" y="260.20" textLength="15.65" lengthAdjust="spacingAndGlyphs">舗</text></g>
<rect x="982.8" y="250.1" width="9" height="8.8" fill="#31849B"/>
<g font-size="14.5" fill="#222"><text x="996.16" y="260.20" textLength="9.20" lengthAdjust="spacingAndGlyphs">1</text><text x="1005.36" y="260.20" textLength="15.32" lengthAdjust="spacingAndGlyphs">法</text><text x="1020.68" y="260.20" textLength="15.32" lengthAdjust="spacingAndGlyphs">人</text><text x="1036.01" y="260.20" textLength="9.20" lengthAdjust="spacingAndGlyphs">2</text><text x="1045.21" y="260.20" textLength="9.20" lengthAdjust="spacingAndGlyphs">0</text><text x="1054.41" y="260.20" textLength="15.32" lengthAdjust="spacingAndGlyphs">店</text><text x="1069.73" y="260.20" textLength="15.32" lengthAdjust="spacingAndGlyphs">舗</text><text x="1085.06" y="260.20" textLength="15.32" lengthAdjust="spacingAndGlyphs">以</text><text x="1100.38" y="260.20" textLength="15.32" lengthAdjust="spacingAndGlyphs">上</text></g>
<rect x="806.4" y="274.7" width="385.5" height="142.2" fill="#fff" stroke="#000" stroke-width="1.8"/>
<g font-size="14.5" fill="#000"><text x="817.84" y="296.00" textLength="9.32" lengthAdjust="spacingAndGlyphs">1</text><text x="827.16" y="296.00" textLength="4.65" lengthAdjust="spacingAndGlyphs">.</text><text x="831.82" y="296.00" textLength="15.51" lengthAdjust="spacingAndGlyphs">診</text><text x="847.33" y="296.00" textLength="15.51" lengthAdjust="spacingAndGlyphs">療</text><text x="862.84" y="296.00" textLength="15.51" lengthAdjust="spacingAndGlyphs">所</text><text x="878.35" y="296.00" textLength="12.72" lengthAdjust="spacingAndGlyphs">の</text><text x="891.07" y="296.00" textLength="15.51" lengthAdjust="spacingAndGlyphs">近</text><text x="906.59" y="296.00" textLength="15.51" lengthAdjust="spacingAndGlyphs">隣</text></g>
<g font-size="14.5" fill="#000"><text x="819.00" y="314.00" textLength="9.27" lengthAdjust="spacingAndGlyphs">2</text><text x="828.27" y="314.00" textLength="4.63" lengthAdjust="spacingAndGlyphs">.</text><text x="832.90" y="314.00" textLength="15.43" lengthAdjust="spacingAndGlyphs">診</text><text x="848.33" y="314.00" textLength="15.43" lengthAdjust="spacingAndGlyphs">療</text><text x="863.76" y="314.00" textLength="15.43" lengthAdjust="spacingAndGlyphs">所</text><text x="879.19" y="314.00" textLength="12.65" lengthAdjust="spacingAndGlyphs">の</text><text x="891.84" y="314.00" textLength="15.43" lengthAdjust="spacingAndGlyphs">敷</text><text x="907.27" y="314.00" textLength="15.43" lengthAdjust="spacingAndGlyphs">地</text><text x="922.70" y="314.00" textLength="15.43" lengthAdjust="spacingAndGlyphs">内</text></g>
<g font-size="14.5" fill="#000"><text x="819.00" y="333.00" textLength="9.26" lengthAdjust="spacingAndGlyphs">3</text><text x="828.26" y="333.00" textLength="4.63" lengthAdjust="spacingAndGlyphs">.</text><text x="832.89" y="333.00" textLength="15.42" lengthAdjust="spacingAndGlyphs">病</text><text x="848.30" y="333.00" textLength="15.42" lengthAdjust="spacingAndGlyphs">院</text><text x="863.72" y="333.00" textLength="12.64" lengthAdjust="spacingAndGlyphs">の</text><text x="876.36" y="333.00" textLength="15.42" lengthAdjust="spacingAndGlyphs">近</text><text x="891.78" y="333.00" textLength="15.42" lengthAdjust="spacingAndGlyphs">隣</text></g>
<g font-size="14.5" fill="#000"><text x="819.00" y="351.00" textLength="9.31" lengthAdjust="spacingAndGlyphs">4</text><text x="828.31" y="351.00" textLength="4.65" lengthAdjust="spacingAndGlyphs">.</text><text x="832.96" y="351.00" textLength="15.49" lengthAdjust="spacingAndGlyphs">病</text><text x="848.45" y="351.00" textLength="15.49" lengthAdjust="spacingAndGlyphs">院</text><text x="863.94" y="351.00" textLength="12.71" lengthAdjust="spacingAndGlyphs">の</text><text x="876.65" y="351.00" textLength="15.49" lengthAdjust="spacingAndGlyphs">敷</text><text x="892.14" y="351.00" textLength="15.49" lengthAdjust="spacingAndGlyphs">地</text><text x="907.64" y="351.00" textLength="15.49" lengthAdjust="spacingAndGlyphs">内</text></g>
<g font-size="14.5" fill="#000"><text x="819.00" y="369.50" textLength="9.19" lengthAdjust="spacingAndGlyphs">5</text><text x="828.19" y="369.50" textLength="4.59" lengthAdjust="spacingAndGlyphs">.</text><text x="832.78" y="369.50" textLength="15.29" lengthAdjust="spacingAndGlyphs">同</text><text x="848.07" y="369.50" textLength="15.29" lengthAdjust="spacingAndGlyphs">一</text><text x="863.37" y="369.50" textLength="12.54" lengthAdjust="spacingAndGlyphs">ビ</text><text x="875.91" y="369.50" textLength="12.54" lengthAdjust="spacingAndGlyphs">ル</text><text x="888.45" y="369.50" textLength="15.29" lengthAdjust="spacingAndGlyphs">内</text><text x="903.74" y="369.50" textLength="11.17" lengthAdjust="spacingAndGlyphs">に</text><text x="914.91" y="369.50" textLength="15.29" lengthAdjust="spacingAndGlyphs">複</text><text x="930.20" y="369.50" textLength="15.29" lengthAdjust="spacingAndGlyphs">数</text><text x="945.50" y="369.50" textLength="12.54" lengthAdjust="spacingAndGlyphs">の</text><text x="958.04" y="369.50" textLength="15.29" lengthAdjust="spacingAndGlyphs">保</text><text x="973.33" y="369.50" textLength="15.29" lengthAdjust="spacingAndGlyphs">険</text><text x="988.63" y="369.50" textLength="15.29" lengthAdjust="spacingAndGlyphs">医</text><text x="1003.92" y="369.50" textLength="15.29" lengthAdjust="spacingAndGlyphs">療</text><text x="1019.22" y="369.50" textLength="15.29" lengthAdjust="spacingAndGlyphs">機</text><text x="1034.51" y="369.50" textLength="15.29" lengthAdjust="spacingAndGlyphs">関</text><text x="1049.81" y="369.50" textLength="12.39" lengthAdjust="spacingAndGlyphs">が</text><text x="1062.20" y="369.50" textLength="12.85" lengthAdjust="spacingAndGlyphs">あ</text><text x="1075.04" y="369.50" textLength="11.93" lengthAdjust="spacingAndGlyphs">る</text><text x="1086.97" y="369.50" textLength="15.29" lengthAdjust="spacingAndGlyphs">（</text><text x="1102.27" y="369.50" textLength="15.29" lengthAdjust="spacingAndGlyphs">医</text><text x="1117.56" y="369.50" textLength="15.29" lengthAdjust="spacingAndGlyphs">療</text><text x="1132.86" y="369.50" textLength="12.54" lengthAdjust="spacingAndGlyphs">モ</text><text x="1145.40" y="369.50" textLength="12.54" lengthAdjust="spacingAndGlyphs">ー</text><text x="1157.94" y="369.50" textLength="12.54" lengthAdjust="spacingAndGlyphs">ル</text><text x="1170.48" y="369.50" textLength="15.29" lengthAdjust="spacingAndGlyphs">）</text></g>
<g font-size="14.5" fill="#000"><text x="819.00" y="388.00" textLength="9.22" lengthAdjust="spacingAndGlyphs">6</text><text x="828.22" y="388.00" textLength="4.61" lengthAdjust="spacingAndGlyphs">.</text><text x="832.83" y="388.00" textLength="15.35" lengthAdjust="spacingAndGlyphs">同</text><text x="848.18" y="388.00" textLength="15.35" lengthAdjust="spacingAndGlyphs">一</text><text x="863.53" y="388.00" textLength="12.59" lengthAdjust="spacingAndGlyphs">ビ</text><text x="876.12" y="388.00" textLength="12.59" lengthAdjust="spacingAndGlyphs">ル</text><text x="888.71" y="388.00" textLength="15.35" lengthAdjust="spacingAndGlyphs">内</text><text x="904.07" y="388.00" textLength="11.21" lengthAdjust="spacingAndGlyphs">に</text><text x="915.28" y="388.00" textLength="15.35" lengthAdjust="spacingAndGlyphs">単</text><text x="930.63" y="388.00" textLength="15.35" lengthAdjust="spacingAndGlyphs">一</text><text x="945.98" y="388.00" textLength="12.59" lengthAdjust="spacingAndGlyphs">の</text><text x="958.57" y="388.00" textLength="15.35" lengthAdjust="spacingAndGlyphs">保</text><text x="973.92" y="388.00" textLength="15.35" lengthAdjust="spacingAndGlyphs">険</text><text x="989.28" y="388.00" textLength="15.35" lengthAdjust="spacingAndGlyphs">医</text><text x="1004.63" y="388.00" textLength="15.35" lengthAdjust="spacingAndGlyphs">療</text><text x="1019.98" y="388.00" textLength="15.35" lengthAdjust="spacingAndGlyphs">機</text><text x="1035.34" y="388.00" textLength="15.35" lengthAdjust="spacingAndGlyphs">関</text><text x="1050.69" y="388.00" textLength="12.44" lengthAdjust="spacingAndGlyphs">が</text><text x="1063.13" y="388.00" textLength="12.90" lengthAdjust="spacingAndGlyphs">あ</text><text x="1076.02" y="388.00" textLength="11.98" lengthAdjust="spacingAndGlyphs">る</text></g>
<g font-size="14.5" fill="#000"><text x="819.00" y="406.50" textLength="9.25" lengthAdjust="spacingAndGlyphs">7</text><text x="828.25" y="406.50" textLength="4.62" lengthAdjust="spacingAndGlyphs">.</text><text x="832.87" y="406.50" textLength="11.09" lengthAdjust="spacingAndGlyphs">そ</text><text x="843.97" y="406.50" textLength="12.63" lengthAdjust="spacingAndGlyphs">の</text><text x="856.60" y="406.50" textLength="15.40" lengthAdjust="spacingAndGlyphs">他</text></g>
<g font-size="13" font-family="'Liberation Serif', serif" fill="#4a4a4a"><text x="667.43" y="540.80">(</text><text x="673.39" y="540.80" textLength="15.17" lengthAdjust="spacingAndGlyphs">出</text><text x="688.56" y="540.80" textLength="15.17" lengthAdjust="spacingAndGlyphs">所</text><text x="705.37" y="540.80">)</text><text x="711.32" y="540.80" textLength="15.17" lengthAdjust="spacingAndGlyphs">厚</text><text x="726.50" y="540.80" textLength="15.17" lengthAdjust="spacingAndGlyphs">生</text><text x="741.67" y="540.80" textLength="15.17" lengthAdjust="spacingAndGlyphs">労</text><text x="756.85" y="540.80" textLength="15.17" lengthAdjust="spacingAndGlyphs">働</text><text x="772.02" y="540.80" textLength="15.17" lengthAdjust="spacingAndGlyphs">省</text><text x="787.20" y="540.80" textLength="7.59" lengthAdjust="spacingAndGlyphs">「</text><text x="794.78" y="540.80" textLength="15.17" lengthAdjust="spacingAndGlyphs">第</text><text x="809.96" y="540.80" textLength="8.19" lengthAdjust="spacingAndGlyphs">5</text><text x="818.15" y="540.80" textLength="8.19" lengthAdjust="spacingAndGlyphs">0</text><text x="826.35" y="540.80" textLength="8.19" lengthAdjust="spacingAndGlyphs">0</text><text x="834.54" y="540.80" textLength="15.17" lengthAdjust="spacingAndGlyphs">回</text><text x="849.71" y="540.80" textLength="15.17" lengthAdjust="spacingAndGlyphs">中</text><text x="864.89" y="540.80" textLength="15.17" lengthAdjust="spacingAndGlyphs">医</text><text x="880.06" y="540.80" textLength="15.17" lengthAdjust="spacingAndGlyphs">協</text><text x="895.24" y="540.80" textLength="15.17" lengthAdjust="spacingAndGlyphs">総</text><text x="910.41" y="540.80" textLength="15.17" lengthAdjust="spacingAndGlyphs">会</text><text x="925.59" y="540.80" textLength="7.59" lengthAdjust="spacingAndGlyphs">」</text><text x="934.80" y="540.80">(</text><text x="940.76" y="540.80" textLength="8.19" lengthAdjust="spacingAndGlyphs">2</text><text x="948.95" y="540.80" textLength="8.19" lengthAdjust="spacingAndGlyphs">0</text><text x="957.15" y="540.80" textLength="8.19" lengthAdjust="spacingAndGlyphs">2</text><text x="965.34" y="540.80" textLength="8.19" lengthAdjust="spacingAndGlyphs">1</text><text x="973.54" y="540.80" textLength="15.17" lengthAdjust="spacingAndGlyphs">年</text><text x="988.71" y="540.80" textLength="8.19" lengthAdjust="spacingAndGlyphs">1</text><text x="996.91" y="540.80" textLength="8.19" lengthAdjust="spacingAndGlyphs">1</text><text x="1005.10" y="540.80" textLength="15.17" lengthAdjust="spacingAndGlyphs">月</text><text x="1020.27" y="540.80" textLength="8.19" lengthAdjust="spacingAndGlyphs">2</text><text x="1028.47" y="540.80" textLength="8.19" lengthAdjust="spacingAndGlyphs">6</text><text x="1036.66" y="540.80" textLength="15.17" lengthAdjust="spacingAndGlyphs">日</text><text x="1053.47" y="540.80">)</text><text x="1059.42" y="540.80" textLength="15.17" lengthAdjust="spacingAndGlyphs">資</text><text x="1074.60" y="540.80" textLength="15.17" lengthAdjust="spacingAndGlyphs">料</text><text x="1089.77" y="540.80" textLength="11.23" lengthAdjust="spacingAndGlyphs">を</text><text x="1101.00" y="540.80" textLength="15.17" lengthAdjust="spacingAndGlyphs">一</text><text x="1116.18" y="540.80" textLength="15.17" lengthAdjust="spacingAndGlyphs">部</text><text x="1131.35" y="540.80" textLength="15.17" lengthAdjust="spacingAndGlyphs">加</text><text x="1146.53" y="540.80" textLength="15.17" lengthAdjust="spacingAndGlyphs">工</text></g>
<path d="M8.0,552.8 L15.0,559.6 L8.0,566.4 L1.0,559.6 Z" fill="#000"/>
<g font-size="17" font-weight="bold" fill="#000" stroke="#000" stroke-width="0.45"><text x="19.20" y="564.00" textLength="18.75" lengthAdjust="spacingAndGlyphs">薬</text><text x="37.96" y="564.00" textLength="18.75" lengthAdjust="spacingAndGlyphs">学</text><text x="56.71" y="564.00" textLength="18.75" lengthAdjust="spacingAndGlyphs">部</text><text x="75.46" y="564.00" textLength="18.75" lengthAdjust="spacingAndGlyphs">入</text><text x="94.21" y="564.00" textLength="18.75" lengthAdjust="spacingAndGlyphs">学</text><text x="112.97" y="564.00" textLength="18.75" lengthAdjust="spacingAndGlyphs">定</text><text x="131.72" y="564.00" textLength="18.75" lengthAdjust="spacingAndGlyphs">員</text><text x="150.47" y="564.00" textLength="17.22" lengthAdjust="spacingAndGlyphs">の</text><text x="167.69" y="564.00" textLength="18.75" lengthAdjust="spacingAndGlyphs">推</text><text x="186.45" y="564.00" textLength="18.75" lengthAdjust="spacingAndGlyphs">移</text></g>
<g font-size="12.5" fill="#222"><text x="8.55" y="584.50">(</text><text x="13.76" y="584.50" textLength="12.52" lengthAdjust="spacingAndGlyphs">人</text><text x="27.33" y="584.50">)</text></g>
<line x1="74.6" x2="562.1" y1="814.1" y2="814.1" stroke="#8C8C8C" stroke-width="1.3"/>
<line x1="74.6" x2="562.1" y1="783.5" y2="783.5" stroke="#8C8C8C" stroke-width="1.3"/>
<line x1="74.6" x2="562.1" y1="752.8" y2="752.8" stroke="#8C8C8C" stroke-width="1.3"/>
<line x1="74.6" x2="562.1" y1="722.2" y2="722.2" stroke="#8C8C8C" stroke-width="1.3"/>
<line x1="74.6" x2="562.1" y1="691.6" y2="691.6" stroke="#8C8C8C" stroke-width="1.3"/>
<line x1="74.6" x2="562.1" y1="661.0" y2="661.0" stroke="#8C8C8C" stroke-width="1.3"/>
<line x1="74.6" x2="562.1" y1="630.3" y2="630.3" stroke="#8C8C8C" stroke-width="1.3"/>
<line x1="74.6" x2="562.1" y1="599.7" y2="599.7" stroke="#8C8C8C" stroke-width="1.3"/>
<line x1="74.6" x2="562.1" y1="844.7" y2="844.7" stroke="#8C8C8C" stroke-width="1.3"/>
<line x1="79.9" x2="79.9" y1="599.7" y2="844.7" stroke="#8C8C8C" stroke-width="1.3"/>
<line x1="79.90" x2="79.90" y1="844.7" y2="850" stroke="#8C8C8C" stroke-width="1.2"/>
<line x1="90.16" x2="90.16" y1="844.7" y2="850" stroke="#8C8C8C" stroke-width="1.2"/>
<line x1="100.42" x2="100.42" y1="844.7" y2="850" stroke="#8C8C8C" stroke-width="1.2"/>
<line x1="110.68" x2="110.68" y1="844.7" y2="850" stroke="#8C8C8C" stroke-width="1.2"/>
<line x1="120.94" x2="120.94" y1="844.7" y2="850" stroke="#8C8C8C" stroke-width="1.2"/>
<line x1="131.20" x2="131.20" y1="844.7" y2="850" stroke="#8C8C8C" stroke-width="1.2"/>
<line x1="141.46" x2="141.46" y1="844.7" y2="850" stroke="#8C8C8C" stroke-width="1.2"/>
<line x1="151.72" x2="151.72" y1="844.7" y2="850" stroke="#8C8C8C" stroke-width="1.2"/>
<line x1="161.98" x2="161.98" y1="844.7" y2="850" stroke="#8C8C8C" stroke-width="1.2"/>
<line x1="172.24" x2="172.24" y1="844.7" y2="850" stroke="#8C8C8C" stroke-width="1.2"/>
<line x1="182.50" x2="182.50" y1="844.7" y2="850" stroke="#8C8C8C" stroke-width="1.2"/>
<line x1="192.76" x2="192.76" y1="844.7" y2="850" stroke="#8C8C8C" stroke-width="1.2"/>
<line x1="203.02" x2="203.02" y1="844.7" y2="850" stroke="#8C8C8C" stroke-width="1.2"/>
<line x1="213.28" x2="213.28" y1="844.7" y2="850" stroke="#8C8C8C" stroke-width="1.2"/>
<line x1="223.54" x2="223.54" y1="844.7" y2="850" stroke="#8C8C8C" stroke-width="1.2"/>
<line x1="233.80" x2="233.80" y1="844.7" y2="850" stroke="#8C8C8C" stroke-width="1.2"/>
<line x1="244.06" x2="244.06" y1="844.7" y2="850" stroke="#8C8C8C" stroke-width="1.2"/>
<line x1="254.32" x2="254.32" y1="844.7" y2="850" stroke="#8C8C8C" stroke-width="1.2"/>
<line x1="264.58" x2="264.58" y1="844.7" y2="850" stroke="#8C8C8C" stroke-width="1.2"/>
<line x1="274.84" x2="274.84" y1="844.7" y2="850" stroke="#8C8C8C" stroke-width="1.2"/>
<line x1="285.10" x2="285.10" y1="844.7" y2="850" stroke="#8C8C8C" stroke-width="1.2"/>
<line x1="295.36" x2="295.36" y1="844.7" y2="850" stroke="#8C8C8C" stroke-width="1.2"/>
<line x1="305.62" x2="305.62" y1="844.7" y2="850" stroke="#8C8C8C" stroke-width="1.2"/>
<line x1="315.88" x2="315.88" y1="844.7" y2="850" stroke="#8C8C8C" stroke-width="1.2"/>
<line x1="326.14" x2="326.14" y1="844.7" y2="850" stroke="#8C8C8C" stroke-width="1.2"/>
<line x1="336.40" x2="336.40" y1="844.7" y2="850" stroke="#8C8C8C" stroke-width="1.2"/>
<line x1="346.66" x2="346.66" y1="844.7" y2="850" stroke="#8C8C8C" stroke-width="1.2"/>
<line x1="356.92" x2="356.92" y1="844.7" y2="850" stroke="#8C8C8C" stroke-width="1.2"/>
<line x1="367.18" x2="367.18" y1="844.7" y2="850" stroke="#8C8C8C" stroke-width="1.2"/>
<line x1="377.44" x2="377.44" y1="844.7" y2="850" stroke="#8C8C8C" stroke-width="1.2"/>
<line x1="387.70" x2="387.70" y1="844.7" y2="850" stroke="#8C8C8C" stroke-width="1.2"/>
<line x1="397.96" x2="397.96" y1="844.7" y2="850" stroke="#8C8C8C" stroke-width="1.2"/>
<line x1="408.22" x2="408.22" y1="844.7" y2="850" stroke="#8C8C8C" stroke-width="1.2"/>
<line x1="418.48" x2="418.48" y1="844.7" y2="850" stroke="#8C8C8C" stroke-width="1.2"/>
<line x1="428.74" x2="428.74" y1="844.7" y2="850" stroke="#8C8C8C" stroke-width="1.2"/>
<line x1="439.00" x2="439.00" y1="844.7" y2="850" stroke="#8C8C8C" stroke-width="1.2"/>
<line x1="449.26" x2="449.26" y1="844.7" y2="850" stroke="#8C8C8C" stroke-width="1.2"/>
<line x1="459.52" x2="459.52" y1="844.7" y2="850" stroke="#8C8C8C" stroke-width="1.2"/>
<line x1="469.78" x2="469.78" y1="844.7" y2="850" stroke="#8C8C8C" stroke-width="1.2"/>
<line x1="480.04" x2="480.04" y1="844.7" y2="850" stroke="#8C8C8C" stroke-width="1.2"/>
<line x1="490.30" x2="490.30" y1="844.7" y2="850" stroke="#8C8C8C" stroke-width="1.2"/>
<line x1="500.56" x2="500.56" y1="844.7" y2="850" stroke="#8C8C8C" stroke-width="1.2"/>
<line x1="510.82" x2="510.82" y1="844.7" y2="850" stroke="#8C8C8C" stroke-width="1.2"/>
<line x1="521.08" x2="521.08" y1="844.7" y2="850" stroke="#8C8C8C" stroke-width="1.2"/>
<line x1="531.34" x2="531.34" y1="844.7" y2="850" stroke="#8C8C8C" stroke-width="1.2"/>
<line x1="541.60" x2="541.60" y1="844.7" y2="850" stroke="#8C8C8C" stroke-width="1.2"/>
<line x1="551.86" x2="551.86" y1="844.7" y2="850" stroke="#8C8C8C" stroke-width="1.2"/>
<line x1="562.12" x2="562.12" y1="844.7" y2="850" stroke="#8C8C8C" stroke-width="1.2"/>
<text x="49.40" y="850.70" font-size="17" textLength="9.45" lengthAdjust="spacingAndGlyphs" fill="#000">0</text>
<text x="16.40" y="819.08" font-size="17" textLength="42.45" lengthAdjust="spacingAndGlyphs" fill="#000">2,000</text>
<text x="16.40" y="788.45" font-size="17" textLength="42.45" lengthAdjust="spacingAndGlyphs" fill="#000">4,000</text>
<text x="16.40" y="757.83" font-size="17" textLength="42.45" lengthAdjust="spacingAndGlyphs" fill="#000">6,000</text>
<text x="16.40" y="727.20" font-size="17" textLength="42.45" lengthAdjust="spacingAndGlyphs" fill="#000">8,000</text>
<text x="6.49" y="696.58" font-size="17" textLength="52.36" lengthAdjust="spacingAndGlyphs" fill="#000">10,000</text>
<text x="6.49" y="665.95" font-size="17" textLength="52.36" lengthAdjust="spacingAndGlyphs" fill="#000">12,000</text>
<text x="6.49" y="635.33" font-size="17" textLength="52.36" lengthAdjust="spacingAndGlyphs" fill="#000">14,000</text>
<text x="6.49" y="604.70" font-size="17" textLength="52.36" lengthAdjust="spacingAndGlyphs" fill="#000">16,000</text>
<polyline points="85.0,746.5 95.3,735.7 105.6,731.2 115.8,731.2 126.1,730.5 136.3,730.6 146.6,731.2 156.9,729.0 167.1,726.3 177.4,726.3 187.6,726.3 197.9,726.3 208.2,726.3 218.4,726.3 228.7,726.3 238.9,726.3 249.2,726.3 259.4,726.3 269.7,726.3 280.0,726.3 290.2,726.3 300.5,726.3 310.8,726.3 321.0,726.3 331.3,726.3 341.5,724.1 351.8,721.3 362.0,718.6 372.3,713.0 382.6,683.1 392.8,666.6 403.1,651.5 413.4,639.6 423.6,636.5 433.9,638.5 444.1,640.4 454.4,642.2 464.6,644.3 474.9,645.1 485.2,646.1 495.4,644.5 505.7,644.5 516.0,645.7 526.2,644.3 536.5,646.5 546.7,644.3 557.0,642.2" fill="none" stroke="#FF0000" stroke-width="4.3" stroke-linejoin="round" stroke-linecap="round"/>
<text transform="translate(91.83,892.88) rotate(-90)" x="0" y="0" font-size="17" textLength="37.23" lengthAdjust="spacingAndGlyphs" fill="#000">1975</text>
<text transform="translate(112.35,892.88) rotate(-90)" x="0" y="0" font-size="17" textLength="37.23" lengthAdjust="spacingAndGlyphs" fill="#000">1977</text>
<text transform="translate(132.87,892.88) rotate(-90)" x="0" y="0" font-size="17" textLength="37.23" lengthAdjust="spacingAndGlyphs" fill="#000">1979</text>
<text transform="translate(153.39,892.88) rotate(-90)" x="0" y="0" font-size="17" textLength="37.23" lengthAdjust="spacingAndGlyphs" fill="#000">1981</text>
<text transform="translate(173.91,892.88) rotate(-90)" x="0" y="0" font-size="17" textLength="37.23" lengthAdjust="spacingAndGlyphs" fill="#000">1983</text>
<text transform="translate(194.43,892.88) rotate(-90)" x="0" y="0" font-size="17" textLength="37.23" lengthAdjust="spacingAndGlyphs" fill="#000">1985</text>
<text transform="translate(214.95,892.88) rotate(-90)" x="0" y="0" font-size="17" textLength="37.23" lengthAdjust="spacingAndGlyphs" fill="#000">1987</text>
<text transform="translate(235.47,892.88) rotate(-90)" x="0" y="0" font-size="17" textLength="37.23" lengthAdjust="spacingAndGlyphs" fill="#000">1989</text>
<text transform="translate(255.99,892.88) rotate(-90)" x="0" y="0" font-size="17" textLength="37.23" lengthAdjust="spacingAndGlyphs" fill="#000">1991</text>
<text transform="translate(276.51,892.88) rotate(-90)" x="0" y="0" font-size="17" textLength="37.23" lengthAdjust="spacingAndGlyphs" fill="#000">1993</text>
<text transform="translate(297.03,892.88) rotate(-90)" x="0" y="0" font-size="17" textLength="37.23" lengthAdjust="spacingAndGlyphs" fill="#000">1995</text>
<text transform="translate(317.55,892.88) rotate(-90)" x="0" y="0" font-size="17" textLength="37.23" lengthAdjust="spacingAndGlyphs" fill="#000">1997</text>
<text transform="translate(338.07,892.88) rotate(-90)" x="0" y="0" font-size="17" textLength="37.23" lengthAdjust="spacingAndGlyphs" fill="#000">1999</text>
<text transform="translate(358.59,891.90) rotate(-90)" x="0" y="0" font-size="17" textLength="36.24" lengthAdjust="spacingAndGlyphs" fill="#000">2001</text>
<text transform="translate(379.11,891.90) rotate(-90)" x="0" y="0" font-size="17" textLength="36.24" lengthAdjust="spacingAndGlyphs" fill="#000">2003</text>
<text transform="translate(399.63,891.90) rotate(-90)" x="0" y="0" font-size="17" textLength="36.24" lengthAdjust="spacingAndGlyphs" fill="#000">2005</text>
<text transform="translate(420.15,891.90) rotate(-90)" x="0" y="0" font-size="17" textLength="36.24" lengthAdjust="spacingAndGlyphs" fill="#000">2007</text>
<text transform="translate(440.67,891.90) rotate(-90)" x="0" y="0" font-size="17" textLength="36.24" lengthAdjust="spacingAndGlyphs" fill="#000">2009</text>
<text transform="translate(461.19,891.90) rotate(-90)" x="0" y="0" font-size="17" textLength="36.25" lengthAdjust="spacingAndGlyphs" fill="#000">2011</text>
<text transform="translate(481.71,891.90) rotate(-90)" x="0" y="0" font-size="17" textLength="36.24" lengthAdjust="spacingAndGlyphs" fill="#000">2013</text>
<text transform="translate(502.23,891.90) rotate(-90)" x="0" y="0" font-size="17" textLength="36.24" lengthAdjust="spacingAndGlyphs" fill="#000">2015</text>
<text transform="translate(522.75,891.90) rotate(-90)" x="0" y="0" font-size="17" textLength="36.24" lengthAdjust="spacingAndGlyphs" fill="#000">2017</text>
<text transform="translate(543.27,891.90) rotate(-90)" x="0" y="0" font-size="17" textLength="36.24" lengthAdjust="spacingAndGlyphs" fill="#000">2019</text>
<text transform="translate(563.79,891.90) rotate(-90)" x="0" y="0" font-size="17" textLength="36.24" lengthAdjust="spacingAndGlyphs" fill="#000">2021</text>
<g font-size="12.5" fill="#222"><text x="570.97" y="880.70">(</text><text x="576.11" y="880.70" textLength="12.22" lengthAdjust="spacingAndGlyphs">年</text><text x="589.30" y="880.70">)</text></g>
<g font-size="12.5" font-family="'Liberation Serif', serif" fill="#4a4a4a"><text x="12.56" y="917.20">(</text><text x="18.08" y="917.20" textLength="13.75" lengthAdjust="spacingAndGlyphs">出</text><text x="31.83" y="917.20" textLength="13.75" lengthAdjust="spacingAndGlyphs">所</text><text x="46.94" y="917.20">)</text><text x="52.46" y="917.20" textLength="13.75" lengthAdjust="spacingAndGlyphs">文</text><text x="66.21" y="917.20" textLength="13.75" lengthAdjust="spacingAndGlyphs">部</text><text x="79.96" y="917.20" textLength="13.75" lengthAdjust="spacingAndGlyphs">科</text><text x="93.72" y="917.20" textLength="13.75" lengthAdjust="spacingAndGlyphs">学</text><text x="107.47" y="917.20" textLength="13.75" lengthAdjust="spacingAndGlyphs">省</text><text x="121.22" y="917.20" textLength="6.88" lengthAdjust="spacingAndGlyphs">「</text><text x="128.10" y="917.20" textLength="13.75" lengthAdjust="spacingAndGlyphs">第</text><text x="141.85" y="917.20" textLength="7.43" lengthAdjust="spacingAndGlyphs">3</text><text x="149.28" y="917.20" textLength="13.75" lengthAdjust="spacingAndGlyphs">回</text><text x="163.03" y="917.20" textLength="13.75" lengthAdjust="spacingAndGlyphs">薬</text><text x="176.79" y="917.20" textLength="13.75" lengthAdjust="spacingAndGlyphs">学</text><text x="190.54" y="917.20" textLength="13.75" lengthAdjust="spacingAndGlyphs">系</text><text x="204.29" y="917.20" textLength="13.75" lengthAdjust="spacingAndGlyphs">人</text><text x="218.04" y="917.20" textLength="13.75" lengthAdjust="spacingAndGlyphs">材</text><text x="231.80" y="917.20" textLength="13.75" lengthAdjust="spacingAndGlyphs">養</text><text x="245.55" y="917.20" textLength="13.75" lengthAdjust="spacingAndGlyphs">成</text><text x="259.30" y="917.20" textLength="11.28" lengthAdjust="spacingAndGlyphs">の</text><text x="270.58" y="917.20" textLength="13.75" lengthAdjust="spacingAndGlyphs">在</text><text x="284.33" y="917.20" textLength="8.11" lengthAdjust="spacingAndGlyphs">り</text><text x="292.45" y="917.20" textLength="13.75" lengthAdjust="spacingAndGlyphs">方</text><text x="306.20" y="917.20" textLength="10.04" lengthAdjust="spacingAndGlyphs">に</text><text x="316.24" y="917.20" textLength="13.75" lengthAdjust="spacingAndGlyphs">関</text><text x="329.99" y="917.20" textLength="10.45" lengthAdjust="spacingAndGlyphs">す</text><text x="340.45" y="917.20" textLength="10.73" lengthAdjust="spacingAndGlyphs">る</text><text x="351.17" y="917.20" textLength="13.75" lengthAdjust="spacingAndGlyphs">検</text><text x="364.93" y="917.20" textLength="13.75" lengthAdjust="spacingAndGlyphs">討</text><text x="378.68" y="917.20" textLength="13.75" lengthAdjust="spacingAndGlyphs">会</text><text x="392.43" y="917.20" textLength="6.88" lengthAdjust="spacingAndGlyphs">」</text><text x="400.66" y="917.20">(</text><text x="406.18" y="917.20" textLength="7.43" lengthAdjust="spacingAndGlyphs">2</text><text x="413.61" y="917.20" textLength="7.43" lengthAdjust="spacingAndGlyphs">0</text><text x="421.04" y="917.20" textLength="7.43" lengthAdjust="spacingAndGlyphs">2</text><text x="428.46" y="917.20" textLength="7.43" lengthAdjust="spacingAndGlyphs">2</text><text x="435.89" y="917.20" textLength="13.75" lengthAdjust="spacingAndGlyphs">年</text><text x="449.64" y="917.20" textLength="7.43" lengthAdjust="spacingAndGlyphs">8</text><text x="457.07" y="917.20" textLength="13.75" lengthAdjust="spacingAndGlyphs">月</text><text x="470.82" y="917.20" textLength="7.43" lengthAdjust="spacingAndGlyphs">1</text><text x="478.25" y="917.20" textLength="7.43" lengthAdjust="spacingAndGlyphs">6</text><text x="485.68" y="917.20" textLength="13.75" lengthAdjust="spacingAndGlyphs">日</text><text x="500.79" y="917.20">)</text><text x="506.31" y="917.20" textLength="13.75" lengthAdjust="spacingAndGlyphs">資</text><text x="520.06" y="917.20" textLength="13.75" lengthAdjust="spacingAndGlyphs">料</text><text x="533.81" y="917.20" textLength="10.18" lengthAdjust="spacingAndGlyphs">を</text><text x="543.99" y="917.20" textLength="13.75" lengthAdjust="spacingAndGlyphs">一</text><text x="557.74" y="917.20" textLength="13.75" lengthAdjust="spacingAndGlyphs">部</text><text x="571.49" y="917.20" textLength="13.75" lengthAdjust="spacingAndGlyphs">加</text><text x="585.25" y="917.20" textLength="13.75" lengthAdjust="spacingAndGlyphs">工</text></g>
<path d="M222.6,573.7 H550.7 Q558.2,573.7 558.2,581.2 V611.2 Q558.2,618.7 550.7,618.7 H501.2 L555.0,639.0 L414.1,618.7 H222.6 Q215.1,618.7 215.1,611.2 V581.2 Q215.1,573.7 222.6,573.7 Z" fill="#fff" stroke="#1F77C4" stroke-width="1.4" stroke-linejoin="miter"/>
<g font-size="15" fill="#000"><text x="230.00" y="591.80" textLength="9.38" lengthAdjust="spacingAndGlyphs">2</text><text x="239.38" y="591.80" textLength="9.38" lengthAdjust="spacingAndGlyphs">0</text><text x="248.76" y="591.80" textLength="9.38" lengthAdjust="spacingAndGlyphs">2</text><text x="258.14" y="591.80" textLength="9.38" lengthAdjust="spacingAndGlyphs">1</text><text x="267.52" y="591.80" textLength="15.62" lengthAdjust="spacingAndGlyphs">年</text><text x="283.13" y="591.80" textLength="15.62" lengthAdjust="spacingAndGlyphs">現</text><text x="298.75" y="591.80" textLength="15.62" lengthAdjust="spacingAndGlyphs">在</text><text x="314.37" y="591.80" textLength="15.62" lengthAdjust="spacingAndGlyphs">：</text><text x="329.98" y="591.80" textLength="9.38" lengthAdjust="spacingAndGlyphs">7</text><text x="339.36" y="591.80" textLength="9.38" lengthAdjust="spacingAndGlyphs">9</text><text x="348.74" y="591.80" textLength="15.62" lengthAdjust="spacingAndGlyphs">学</text><text x="364.36" y="591.80" textLength="15.62" lengthAdjust="spacingAndGlyphs">部</text><text x="379.97" y="591.80" textLength="15.62" lengthAdjust="spacingAndGlyphs">（</text><text x="395.59" y="591.80" textLength="15.62" lengthAdjust="spacingAndGlyphs">入</text><text x="411.21" y="591.80" textLength="15.62" lengthAdjust="spacingAndGlyphs">学</text><text x="426.82" y="591.80" textLength="15.62" lengthAdjust="spacingAndGlyphs">定</text><text x="442.44" y="591.80" textLength="15.62" lengthAdjust="spacingAndGlyphs">員</text><text x="458.05" y="591.80" textLength="9.38" lengthAdjust="spacingAndGlyphs">1</text><text x="467.43" y="591.80" textLength="9.38" lengthAdjust="spacingAndGlyphs">3</text><text x="476.81" y="591.80" textLength="4.69" lengthAdjust="spacingAndGlyphs">,</text><text x="481.50" y="591.80" textLength="9.38" lengthAdjust="spacingAndGlyphs">2</text><text x="490.88" y="591.80" textLength="9.38" lengthAdjust="spacingAndGlyphs">0</text><text x="500.26" y="591.80" textLength="9.38" lengthAdjust="spacingAndGlyphs">5</text><text x="509.64" y="591.80" textLength="15.62" lengthAdjust="spacingAndGlyphs">人</text><text x="525.25" y="591.80" textLength="15.62" lengthAdjust="spacingAndGlyphs">）</text></g>
<g font-size="15" fill="#000"><text x="270.27" y="611.30" textLength="15.89" lengthAdjust="spacingAndGlyphs">（</text><text x="286.16" y="611.30" textLength="9.54" lengthAdjust="spacingAndGlyphs">6</text><text x="295.70" y="611.30" textLength="15.89" lengthAdjust="spacingAndGlyphs">年</text><text x="311.59" y="611.30" textLength="15.89" lengthAdjust="spacingAndGlyphs">制</text><text x="327.47" y="611.30" textLength="9.54" lengthAdjust="spacingAndGlyphs">1</text><text x="337.02" y="611.30" textLength="9.54" lengthAdjust="spacingAndGlyphs">1</text><text x="346.56" y="611.30" textLength="4.77" lengthAdjust="spacingAndGlyphs">,</text><text x="351.33" y="611.30" textLength="9.54" lengthAdjust="spacingAndGlyphs">7</text><text x="360.87" y="611.30" textLength="9.54" lengthAdjust="spacingAndGlyphs">9</text><text x="370.41" y="611.30" textLength="9.54" lengthAdjust="spacingAndGlyphs">7</text><text x="379.96" y="611.30" textLength="15.89" lengthAdjust="spacingAndGlyphs">人</text><text x="395.85" y="611.30" textLength="9.85" lengthAdjust="spacingAndGlyphs">、</text><text x="405.70" y="611.30" textLength="9.54" lengthAdjust="spacingAndGlyphs">4</text><text x="415.24" y="611.30" textLength="15.89" lengthAdjust="spacingAndGlyphs">年</text><text x="431.13" y="611.30" textLength="15.89" lengthAdjust="spacingAndGlyphs">制</text><text x="447.02" y="611.30" textLength="9.54" lengthAdjust="spacingAndGlyphs">1</text><text x="456.56" y="611.30" textLength="4.77" lengthAdjust="spacingAndGlyphs">,</text><text x="461.33" y="611.30" textLength="9.54" lengthAdjust="spacingAndGlyphs">4</text><text x="470.87" y="611.30" textLength="9.54" lengthAdjust="spacingAndGlyphs">0</text><text x="480.41" y="611.30" textLength="9.54" lengthAdjust="spacingAndGlyphs">8</text><text x="489.96" y="611.30" textLength="15.89" lengthAdjust="spacingAndGlyphs">人</text><text x="505.84" y="611.30" textLength="15.89" lengthAdjust="spacingAndGlyphs">）</text></g>
<path d="M135.3,647.9 H329.4 Q336.2,647.9 336.2,654.6999999999999 V673.0 L383.9,682.6 L336.2,684.2 V684.7 Q336.2,691.5 329.4,691.5 H135.3 Q128.5,691.5 128.5,684.7 V654.6999999999999 Q128.5,647.9 135.3,647.9 Z" fill="#fff" stroke="#1F77C4" stroke-width="1.4" stroke-linejoin="miter"/>
<g font-size="15" fill="#000"><text x="152.20" y="664.40" textLength="9.38" lengthAdjust="spacingAndGlyphs">2</text><text x="161.58" y="664.40" textLength="9.38" lengthAdjust="spacingAndGlyphs">0</text><text x="170.97" y="664.40" textLength="9.38" lengthAdjust="spacingAndGlyphs">0</text><text x="180.35" y="664.40" textLength="9.38" lengthAdjust="spacingAndGlyphs">3</text><text x="189.73" y="664.40" textLength="15.62" lengthAdjust="spacingAndGlyphs">～</text><text x="205.35" y="664.40" textLength="9.38" lengthAdjust="spacingAndGlyphs">2</text><text x="214.74" y="664.40" textLength="9.38" lengthAdjust="spacingAndGlyphs">0</text><text x="224.12" y="664.40" textLength="9.38" lengthAdjust="spacingAndGlyphs">0</text><text x="233.50" y="664.40" textLength="9.38" lengthAdjust="spacingAndGlyphs">8</text><text x="242.88" y="664.40" textLength="15.62" lengthAdjust="spacingAndGlyphs">年</text><text x="258.51" y="664.40" textLength="12.81" lengthAdjust="spacingAndGlyphs">の</text><text x="271.32" y="664.40" textLength="9.38" lengthAdjust="spacingAndGlyphs">6</text><text x="280.70" y="664.40" textLength="15.62" lengthAdjust="spacingAndGlyphs">年</text><text x="296.32" y="664.40" textLength="15.62" lengthAdjust="spacingAndGlyphs">間</text></g>
<g font-size="15" fill="#000"><text x="178.23" y="684.30" textLength="11.54" lengthAdjust="spacingAndGlyphs">に</text><text x="189.77" y="684.30" textLength="9.50" lengthAdjust="spacingAndGlyphs">2</text><text x="199.27" y="684.30" textLength="9.50" lengthAdjust="spacingAndGlyphs">8</text><text x="208.76" y="684.30" textLength="15.81" lengthAdjust="spacingAndGlyphs">学</text><text x="224.57" y="684.30" textLength="15.81" lengthAdjust="spacingAndGlyphs">部</text><text x="240.38" y="684.30" textLength="12.80" lengthAdjust="spacingAndGlyphs">が</text><text x="253.18" y="684.30" textLength="15.81" lengthAdjust="spacingAndGlyphs">新</text><text x="268.99" y="684.30" textLength="15.81" lengthAdjust="spacingAndGlyphs">設</text></g>
<path d="M198.3,756.4 H419.4 Q426.9,756.4 426.9,763.9 V792.4 Q426.9,799.9 419.4,799.9 H387.7 L403.4,843.9 L328.9,799.9 H198.3 Q190.8,799.9 190.8,792.4 V763.9 Q190.8,756.4 198.3,756.4 Z" fill="#fff" stroke="#1F77C4" stroke-width="1.4" stroke-linejoin="miter"/>
<g font-size="15" fill="#000"><text x="206.40" y="782.60" textLength="8.95" lengthAdjust="spacingAndGlyphs">2</text><text x="215.35" y="782.60" textLength="8.95" lengthAdjust="spacingAndGlyphs">0</text><text x="224.30" y="782.60" textLength="8.95" lengthAdjust="spacingAndGlyphs">0</text><text x="233.25" y="782.60" textLength="8.95" lengthAdjust="spacingAndGlyphs">6</text><text x="242.20" y="782.60" textLength="14.90" lengthAdjust="spacingAndGlyphs">年</text><text x="271.99" y="782.60" textLength="14.90" lengthAdjust="spacingAndGlyphs">薬</text><text x="286.89" y="782.60" textLength="14.90" lengthAdjust="spacingAndGlyphs">学</text><text x="301.79" y="782.60" textLength="14.90" lengthAdjust="spacingAndGlyphs">部</text><text x="316.69" y="782.60" textLength="14.90" lengthAdjust="spacingAndGlyphs">６</text><text x="331.59" y="782.60" textLength="14.90" lengthAdjust="spacingAndGlyphs">年</text><text x="346.49" y="782.60" textLength="14.90" lengthAdjust="spacingAndGlyphs">制</text><text x="361.39" y="782.60" textLength="12.22" lengthAdjust="spacingAndGlyphs">の</text><text x="373.60" y="782.60" textLength="14.90" lengthAdjust="spacingAndGlyphs">導</text><text x="388.50" y="782.60" textLength="14.90" lengthAdjust="spacingAndGlyphs">入</text></g>
<path d="M615.2,563.7 L622.2,570.5 L615.2,577.3 L608.2,570.5 Z" fill="#000"/>
<g font-size="16.5" font-weight="bold" fill="#000" stroke="#000" stroke-width="0.45"><text x="625.71" y="575.40" textLength="18.94" lengthAdjust="spacingAndGlyphs">薬</text><text x="644.66" y="575.40" textLength="18.94" lengthAdjust="spacingAndGlyphs">剤</text><text x="663.60" y="575.40" textLength="18.94" lengthAdjust="spacingAndGlyphs">師</text><text x="682.55" y="575.40" textLength="18.94" lengthAdjust="spacingAndGlyphs">数</text><text x="701.49" y="575.40" textLength="14.00" lengthAdjust="spacingAndGlyphs">と</text><text x="715.50" y="575.40" textLength="18.94" lengthAdjust="spacingAndGlyphs">処</text><text x="734.44" y="575.40" textLength="18.94" lengthAdjust="spacingAndGlyphs">方</text><text x="753.39" y="575.40" textLength="18.94" lengthAdjust="spacingAndGlyphs">箋</text><text x="772.33" y="575.40" textLength="18.94" lengthAdjust="spacingAndGlyphs">１</text><text x="791.28" y="575.40" textLength="18.94" lengthAdjust="spacingAndGlyphs">枚</text><text x="810.22" y="575.40" textLength="18.94" lengthAdjust="spacingAndGlyphs">当</text><text x="829.17" y="575.40" textLength="16.55" lengthAdjust="spacingAndGlyphs">た</text><text x="845.72" y="575.40" textLength="12.52" lengthAdjust="spacingAndGlyphs">り</text><text x="858.24" y="575.40" textLength="17.40" lengthAdjust="spacingAndGlyphs">の</text><text x="875.64" y="575.40" textLength="18.94" lengthAdjust="spacingAndGlyphs">技</text><text x="894.58" y="575.40" textLength="18.94" lengthAdjust="spacingAndGlyphs">術</text><text x="913.53" y="575.40" textLength="18.94" lengthAdjust="spacingAndGlyphs">料</text><text x="932.47" y="575.40" textLength="17.40" lengthAdjust="spacingAndGlyphs">の</text><text x="949.87" y="575.40" textLength="18.94" lengthAdjust="spacingAndGlyphs">増</text><text x="968.82" y="575.40" textLength="18.94" lengthAdjust="spacingAndGlyphs">加</text><text x="987.76" y="575.40" textLength="16.97" lengthAdjust="spacingAndGlyphs">な</text><text x="1004.74" y="575.40" textLength="16.97" lengthAdjust="spacingAndGlyphs">ど</text><text x="1021.71" y="575.40" textLength="18.94" lengthAdjust="spacingAndGlyphs">（</text><text x="1040.65" y="575.40" textLength="11.38" lengthAdjust="spacingAndGlyphs">2</text><text x="1052.03" y="575.40" textLength="11.38" lengthAdjust="spacingAndGlyphs">0</text><text x="1063.41" y="575.40" textLength="11.38" lengthAdjust="spacingAndGlyphs">1</text><text x="1074.79" y="575.40" textLength="11.38" lengthAdjust="spacingAndGlyphs">0</text><text x="1086.17" y="575.40" textLength="18.94" lengthAdjust="spacingAndGlyphs">年</text><text x="1105.12" y="575.40" textLength="18.94" lengthAdjust="spacingAndGlyphs">＝</text><text x="1124.06" y="575.40" textLength="11.38" lengthAdjust="spacingAndGlyphs">1</text><text x="1135.44" y="575.40" textLength="11.38" lengthAdjust="spacingAndGlyphs">0</text><text x="1146.82" y="575.40" textLength="11.38" lengthAdjust="spacingAndGlyphs">0</text><text x="1158.20" y="575.40" textLength="18.94" lengthAdjust="spacingAndGlyphs">）</text></g>
<line x1="642.0" x2="1220.5" y1="849.7" y2="849.7" stroke="#D9D9D9" stroke-width="1.3"/>
<text x="602.70" y="856.01" font-size="17" textLength="18.24" lengthAdjust="spacingAndGlyphs" fill="#000">70</text>
<line x1="642.0" x2="1220.5" y1="812.0" y2="812.0" stroke="#D9D9D9" stroke-width="1.3"/>
<text x="602.70" y="818.34" font-size="17" textLength="18.24" lengthAdjust="spacingAndGlyphs" fill="#000">80</text>
<line x1="642.0" x2="1220.5" y1="774.4" y2="774.4" stroke="#D9D9D9" stroke-width="1.3"/>
<text x="602.70" y="780.67" font-size="17" textLength="18.24" lengthAdjust="spacingAndGlyphs" fill="#000">90</text>
<line x1="642.0" x2="1220.5" y1="736.7" y2="736.7" stroke="#D9D9D9" stroke-width="1.3"/>
<text x="592.91" y="743.00" font-size="17" textLength="28.04" lengthAdjust="spacingAndGlyphs" fill="#000">100</text>
<line x1="642.0" x2="1220.5" y1="699.0" y2="699.0" stroke="#D9D9D9" stroke-width="1.3"/>
<text x="592.86" y="705.33" font-size="17" textLength="28.11" lengthAdjust="spacingAndGlyphs" fill="#000">110</text>
<line x1="642.0" x2="1220.5" y1="661.4" y2="661.4" stroke="#D9D9D9" stroke-width="1.3"/>
<text x="592.91" y="667.66" font-size="17" textLength="28.04" lengthAdjust="spacingAndGlyphs" fill="#000">120</text>
<line x1="642.0" x2="1220.5" y1="623.7" y2="623.7" stroke="#D9D9D9" stroke-width="1.3"/>
<text x="592.91" y="629.99" font-size="17" textLength="28.04" lengthAdjust="spacingAndGlyphs" fill="#000">130</text>
<line x1="642.0" x2="1220.5" y1="586.0" y2="586.0" stroke="#D9D9D9" stroke-width="1.3"/>
<text x="592.91" y="592.32" font-size="17" textLength="28.04" lengthAdjust="spacingAndGlyphs" fill="#000">140</text>
<polyline points="666.1,736.7 714.3,738.2 762.5,740.8 810.7,747.6 858.9,751.4 907.1,757.4 955.4,763.8 1003.6,770.2 1051.8,774.0 1100.0,780.0 1148.2,822.2 1196.4,812.8" fill="none" stroke="#0052D9" stroke-width="4.5" stroke-linejoin="round"/>
<rect x="659.6" y="730.2" width="13" height="13" fill="#0052D9"/>
<rect x="707.8" y="731.7" width="13" height="13" fill="#0052D9"/>
<rect x="756.0" y="734.3" width="13" height="13" fill="#0052D9"/>
<rect x="804.2" y="741.1" width="13" height="13" fill="#0052D9"/>
<rect x="852.4" y="744.9" width="13" height="13" fill="#0052D9"/>
<rect x="900.6" y="750.9" width="13" height="13" fill="#0052D9"/>
<rect x="948.9" y="757.3" width="13" height="13" fill="#0052D9"/>
<rect x="997.1" y="763.7" width="13" height="13" fill="#0052D9"/>
<rect x="1045.3" y="767.5" width="13" height="13" fill="#0052D9"/>
<rect x="1093.5" y="773.5" width="13" height="13" fill="#0052D9"/>
<rect x="1141.7" y="815.7" width="13" height="13" fill="#0052D9"/>
<rect x="1189.9" y="806.3" width="13" height="13" fill="#0052D9"/>
<polyline points="666.1,736.7 714.3,731.0 762.5,725.4 810.7,719.0 858.9,719.0 907.1,712.6 955.4,711.8 1003.6,703.2 1051.8,701.7 1100.0,691.5 1148.2,670.8 1196.4,662.1" fill="none" stroke="#6F6FFF" stroke-width="3.8" stroke-linejoin="round"/>
<path d="M666.1,729.9 L673.3,743.3 L658.9,743.3 Z" fill="#6F6FFF"/>
<path d="M714.3,724.2 L721.5,737.6 L707.1,737.6 Z" fill="#6F6FFF"/>
<path d="M762.5,718.6 L769.7,732.0 L755.3,732.0 Z" fill="#6F6FFF"/>
<path d="M810.7,712.2 L817.9,725.6 L803.5,725.6 Z" fill="#6F6FFF"/>
<path d="M858.9,712.2 L866.1,725.6 L851.7,725.6 Z" fill="#6F6FFF"/>
<path d="M907.1,705.8 L914.3,719.2 L899.9,719.2 Z" fill="#6F6FFF"/>
<path d="M955.4,705.0 L962.6,718.4 L948.2,718.4 Z" fill="#6F6FFF"/>
<path d="M1003.6,696.4 L1010.8,709.8 L996.4,709.8 Z" fill="#6F6FFF"/>
<path d="M1051.8,694.9 L1059.0,708.3 L1044.6,708.3 Z" fill="#6F6FFF"/>
<path d="M1100.0,684.7 L1107.2,698.1 L1092.8,698.1 Z" fill="#6F6FFF"/>
<path d="M1148.2,664.0 L1155.4,677.4 L1141.0,677.4 Z" fill="#6F6FFF"/>
<path d="M1196.4,655.3 L1203.6,668.7 L1189.2,668.7 Z" fill="#6F6FFF"/>
<polyline points="666.1,736.7 714.3,726.2 762.5,716.7 810.7,706.6 858.9,696.0 907.1,682.1 955.4,667.8 1003.6,657.2 1051.8,646.3 1100.0,635.0 1148.2,624.1 1196.4,612.4" fill="none" stroke="#FF0000" stroke-width="2.5" stroke-dasharray="3.0 2.5"/>
<circle cx="714.3" cy="726.2" r="6.4" fill="#FF0000"/>
<circle cx="714.3" cy="726.2" r="0.9" fill="#4A7BFF"/>
<circle cx="762.5" cy="716.7" r="6.4" fill="#FF0000"/>
<circle cx="762.5" cy="716.7" r="0.9" fill="#4A7BFF"/>
<circle cx="810.7" cy="706.6" r="6.4" fill="#FF0000"/>
<circle cx="810.7" cy="706.6" r="0.9" fill="#4A7BFF"/>
<circle cx="858.9" cy="696.0" r="6.4" fill="#FF0000"/>
<circle cx="858.9" cy="696.0" r="0.9" fill="#4A7BFF"/>
<circle cx="907.1" cy="682.1" r="6.4" fill="#FF0000"/>
<circle cx="907.1" cy="682.1" r="0.9" fill="#4A7BFF"/>
<circle cx="955.4" cy="667.8" r="6.4" fill="#FF0000"/>
<circle cx="955.4" cy="667.8" r="0.9" fill="#4A7BFF"/>
<circle cx="1003.6" cy="657.2" r="6.4" fill="#FF0000"/>
<circle cx="1003.6" cy="657.2" r="0.9" fill="#4A7BFF"/>
<circle cx="1051.8" cy="646.3" r="6.4" fill="#FF0000"/>
<circle cx="1051.8" cy="646.3" r="0.9" fill="#4A7BFF"/>
<circle cx="1100.0" cy="635.0" r="6.4" fill="#FF0000"/>
<circle cx="1100.0" cy="635.0" r="0.9" fill="#4A7BFF"/>
<circle cx="1148.2" cy="624.1" r="6.4" fill="#FF0000"/>
<circle cx="1148.2" cy="624.1" r="0.9" fill="#4A7BFF"/>
<circle cx="1196.4" cy="612.4" r="6.4" fill="#FF0000"/>
<circle cx="1196.4" cy="612.4" r="0.9" fill="#4A7BFF"/>
<polyline points="666.1,736.7 714.3,734.1 762.5,728.8 810.7,731.4 858.9,735.2 907.1,735.9 955.4,739.7 1003.6,739.0 1051.8,742.0 1100.0,739.0 1148.2,771.0 1196.4,754.4" fill="none" stroke="#FF0000" stroke-width="5" stroke-linejoin="round"/>
<path d="M666.1,728.7 L674.4,736.7 L666.1,744.7 L657.8,736.7 Z" fill="#FF0000"/>
<path d="M714.3,726.1 L722.6,734.1 L714.3,742.1 L706.0,734.1 Z" fill="#FF0000"/>
<path d="M762.5,720.8 L770.8,728.8 L762.5,736.8 L754.2,728.8 Z" fill="#FF0000"/>
<path d="M810.7,723.4 L819.0,731.4 L810.7,739.4 L802.4,731.4 Z" fill="#FF0000"/>
<path d="M858.9,727.2 L867.2,735.2 L858.9,743.2 L850.6,735.2 Z" fill="#FF0000"/>
<path d="M907.1,727.9 L915.4,735.9 L907.1,743.9 L898.8,735.9 Z" fill="#FF0000"/>
<path d="M955.4,731.7 L963.7,739.7 L955.4,747.7 L947.1,739.7 Z" fill="#FF0000"/>
<path d="M1003.6,731.0 L1011.9,739.0 L1003.6,747.0 L995.3,739.0 Z" fill="#FF0000"/>
<path d="M1051.8,734.0 L1060.1,742.0 L1051.8,750.0 L1043.5,742.0 Z" fill="#FF0000"/>
<path d="M1100.0,731.0 L1108.3,739.0 L1100.0,747.0 L1091.7,739.0 Z" fill="#FF0000"/>
<path d="M1148.2,763.0 L1156.5,771.0 L1148.2,779.0 L1139.9,771.0 Z" fill="#FF0000"/>
<path d="M1196.4,746.4 L1204.7,754.4 L1196.4,762.4 L1188.1,754.4 Z" fill="#FF0000"/>
<text x="647.40" y="759.00" font-size="16.4" textLength="27.31" lengthAdjust="spacingAndGlyphs" fill="#000">100</text>
<text x="698.10" y="693.40" font-size="16.4" textLength="27.31" lengthAdjust="spacingAndGlyphs" fill="#3A8EF0">103</text>
<text x="742.70" y="692.20" font-size="16.4" textLength="27.31" lengthAdjust="spacingAndGlyphs" fill="#3A8EF0">105</text>
<text x="793.50" y="667.50" font-size="16.4" textLength="27.31" lengthAdjust="spacingAndGlyphs" fill="#3A8EF0">108</text>
<text x="844.90" y="680.80" font-size="16.4" textLength="27.43" lengthAdjust="spacingAndGlyphs" fill="#3A8EF0">111</text>
<text x="893.25" y="666.70" font-size="16.4" textLength="27.37" lengthAdjust="spacingAndGlyphs" fill="#3A8EF0">114</text>
<text x="941.85" y="651.70" font-size="16.4" textLength="27.37" lengthAdjust="spacingAndGlyphs" fill="#3A8EF0">118</text>
<text x="990.10" y="641.40" font-size="16.4" textLength="27.31" lengthAdjust="spacingAndGlyphs" fill="#3A8EF0">121</text>
<text x="1038.80" y="630.40" font-size="16.4" textLength="27.31" lengthAdjust="spacingAndGlyphs" fill="#3A8EF0">124</text>
<text x="1086.90" y="619.30" font-size="16.4" textLength="27.31" lengthAdjust="spacingAndGlyphs" fill="#3A8EF0">127</text>
<text x="1135.00" y="608.50" font-size="16.4" textLength="27.31" lengthAdjust="spacingAndGlyphs" fill="#3A8EF0">130</text>
<text x="1183.40" y="598.30" font-size="16.4" textLength="27.31" lengthAdjust="spacingAndGlyphs" fill="#3A8EF0">133</text>
<text x="697.90" y="713.70" font-size="16.4" textLength="27.31" lengthAdjust="spacingAndGlyphs" fill="#8366FF">101</text>
<text x="744.40" y="710.20" font-size="16.4" textLength="27.31" lengthAdjust="spacingAndGlyphs" fill="#8366FF">103</text>
<text x="794.40" y="689.40" font-size="16.4" textLength="27.31" lengthAdjust="spacingAndGlyphs" fill="#8366FF">105</text>
<text x="840.90" y="714.70" font-size="16.4" textLength="27.31" lengthAdjust="spacingAndGlyphs" fill="#8366FF">105</text>
<text x="891.10" y="707.10" font-size="16.4" textLength="27.31" lengthAdjust="spacingAndGlyphs" fill="#8366FF">106</text>
<text x="941.90" y="692.50" font-size="16.4" textLength="27.31" lengthAdjust="spacingAndGlyphs" fill="#8366FF">107</text>
<text x="990.10" y="683.40" font-size="16.4" textLength="27.31" lengthAdjust="spacingAndGlyphs" fill="#8366FF">109</text>
<text x="1038.80" y="682.30" font-size="16.4" textLength="27.31" lengthAdjust="spacingAndGlyphs" fill="#8366FF">109</text>
<text x="1086.85" y="671.80" font-size="16.4" textLength="27.37" lengthAdjust="spacingAndGlyphs" fill="#8366FF">112</text>
<text x="1134.95" y="652.20" font-size="16.4" textLength="27.37" lengthAdjust="spacingAndGlyphs" fill="#8366FF">117</text>
<text x="1183.40" y="643.50" font-size="16.4" textLength="27.31" lengthAdjust="spacingAndGlyphs" fill="#8366FF">120</text>
<text x="699.30" y="763.10" font-size="16.4" textLength="27.31" lengthAdjust="spacingAndGlyphs" fill="#00CCFF">101</text>
<text x="749.60" y="768.30" font-size="16.4" textLength="27.31" lengthAdjust="spacingAndGlyphs" fill="#00CCFF">102</text>
<text x="794.00" y="769.70" font-size="16.4" textLength="27.31" lengthAdjust="spacingAndGlyphs" fill="#00CCFF">101</text>
<text x="845.00" y="776.50" font-size="16.4" textLength="27.31" lengthAdjust="spacingAndGlyphs" fill="#00CCFF">100</text>
<text x="892.50" y="779.30" font-size="16.4" textLength="27.31" lengthAdjust="spacingAndGlyphs" fill="#00CCFF">100</text>
<text x="946.45" y="758.10" font-size="16.4" textLength="17.61" lengthAdjust="spacingAndGlyphs" fill="#00CCFF">99</text>
<text x="993.05" y="762.50" font-size="16.4" textLength="17.61" lengthAdjust="spacingAndGlyphs" fill="#00CCFF">99</text>
<text x="1044.95" y="762.50" font-size="16.4" textLength="17.61" lengthAdjust="spacingAndGlyphs" fill="#00CCFF">98</text>
<text x="1091.05" y="759.50" font-size="16.4" textLength="17.61" lengthAdjust="spacingAndGlyphs" fill="#00CCFF">99</text>
<text x="1140.35" y="796.60" font-size="16.4" textLength="17.61" lengthAdjust="spacingAndGlyphs" fill="#00CCFF">91</text>
<text x="1188.75" y="786.70" font-size="16.4" textLength="17.61" lengthAdjust="spacingAndGlyphs" fill="#00CCFF">95</text>
<text x="705.70" y="779.50" font-size="16.4" textLength="27.31" lengthAdjust="spacingAndGlyphs" fill="#1E5BE0">100</text>
<text x="757.85" y="790.70" font-size="16.4" textLength="17.61" lengthAdjust="spacingAndGlyphs" fill="#1E5BE0">99</text>
<text x="805.75" y="792.40" font-size="16.4" textLength="17.61" lengthAdjust="spacingAndGlyphs" fill="#1E5BE0">97</text>
<text x="847.65" y="793.40" font-size="16.4" textLength="17.61" lengthAdjust="spacingAndGlyphs" fill="#1E5BE0">96</text>
<text x="898.65" y="805.00" font-size="16.4" textLength="17.61" lengthAdjust="spacingAndGlyphs" fill="#1E5BE0">94</text>
<text x="949.35" y="791.60" font-size="16.4" textLength="17.61" lengthAdjust="spacingAndGlyphs" fill="#1E5BE0">93</text>
<text x="999.75" y="797.40" font-size="16.4" textLength="17.61" lengthAdjust="spacingAndGlyphs" fill="#1E5BE0">91</text>
<text x="1042.05" y="796.00" font-size="16.4" textLength="17.61" lengthAdjust="spacingAndGlyphs" fill="#1E5BE0">90</text>
<text x="1091.65" y="806.20" font-size="16.4" textLength="17.61" lengthAdjust="spacingAndGlyphs" fill="#1E5BE0">88</text>
<text x="1139.75" y="848.50" font-size="16.4" textLength="17.61" lengthAdjust="spacingAndGlyphs" fill="#1E5BE0">77</text>
<text x="1187.85" y="838.30" font-size="16.4" textLength="17.61" lengthAdjust="spacingAndGlyphs" fill="#1E5BE0">80</text>
<text x="647.90" y="876.20" font-size="17" textLength="36.84" lengthAdjust="spacingAndGlyphs" fill="#000">2010</text>
<text x="696.11" y="876.20" font-size="17" textLength="36.86" lengthAdjust="spacingAndGlyphs" fill="#000">2011</text>
<text x="744.32" y="876.20" font-size="17" textLength="36.84" lengthAdjust="spacingAndGlyphs" fill="#000">2012</text>
<text x="792.53" y="876.20" font-size="17" textLength="36.84" lengthAdjust="spacingAndGlyphs" fill="#000">2013</text>
<text x="840.74" y="876.20" font-size="17" textLength="36.84" lengthAdjust="spacingAndGlyphs" fill="#000">2014</text>
<text x="888.95" y="876.20" font-size="17" textLength="36.84" lengthAdjust="spacingAndGlyphs" fill="#000">2015</text>
<text x="937.15" y="876.20" font-size="17" textLength="36.84" lengthAdjust="spacingAndGlyphs" fill="#000">2016</text>
<text x="985.36" y="876.20" font-size="17" textLength="36.84" lengthAdjust="spacingAndGlyphs" fill="#000">2017</text>
<text x="1033.57" y="876.20" font-size="17" textLength="36.84" lengthAdjust="spacingAndGlyphs" fill="#000">2018</text>
<text x="1081.78" y="876.20" font-size="17" textLength="36.84" lengthAdjust="spacingAndGlyphs" fill="#000">2019</text>
<text x="1129.99" y="876.20" font-size="17" textLength="36.84" lengthAdjust="spacingAndGlyphs" fill="#000">2020</text>
<text x="1178.20" y="876.20" font-size="17" textLength="36.84" lengthAdjust="spacingAndGlyphs" fill="#000">2021</text>
<g font-size="12.5" fill="#222"><text x="1220.97" y="875.50">(</text><text x="1226.11" y="875.50" textLength="12.21" lengthAdjust="spacingAndGlyphs">年</text><text x="1238.32" y="875.50" textLength="12.21" lengthAdjust="spacingAndGlyphs">度</text><text x="1251.50" y="875.50">)</text></g>
<g font-size="13.5" fill="#262626"><text x="1224.20" y="616.00" textLength="13.45" lengthAdjust="spacingAndGlyphs">薬</text><text x="1237.65" y="616.00" textLength="13.45" lengthAdjust="spacingAndGlyphs">剤</text><text x="1251.10" y="616.00" textLength="13.45" lengthAdjust="spacingAndGlyphs">師</text><text x="1264.55" y="616.00" textLength="13.45" lengthAdjust="spacingAndGlyphs">数</text></g>
<g font-size="13.5" fill="#262626"><text x="1224.20" y="665.80" textLength="13.46" lengthAdjust="spacingAndGlyphs">処</text><text x="1237.66" y="665.80" textLength="13.46" lengthAdjust="spacingAndGlyphs">方</text><text x="1251.12" y="665.80" textLength="13.46" lengthAdjust="spacingAndGlyphs">箋</text><text x="1264.58" y="665.80" textLength="13.46" lengthAdjust="spacingAndGlyphs">１</text><text x="1278.04" y="665.80" textLength="13.46" lengthAdjust="spacingAndGlyphs">枚</text></g>
<g font-size="13.5" fill="#262626"><text x="1223.21" y="681.90" textLength="13.86" lengthAdjust="spacingAndGlyphs">当</text><text x="1237.07" y="681.90" textLength="10.81" lengthAdjust="spacingAndGlyphs">た</text><text x="1247.88" y="681.90" textLength="8.18" lengthAdjust="spacingAndGlyphs">り</text><text x="1256.06" y="681.90" textLength="11.36" lengthAdjust="spacingAndGlyphs">の</text><text x="1267.42" y="681.90" textLength="13.86" lengthAdjust="spacingAndGlyphs">技</text><text x="1281.28" y="681.90" textLength="13.86" lengthAdjust="spacingAndGlyphs">術</text><text x="1295.14" y="681.90" textLength="13.86" lengthAdjust="spacingAndGlyphs">料</text></g>
<g font-size="13.5" fill="#262626"><text x="1220.20" y="753.20" textLength="13.43" lengthAdjust="spacingAndGlyphs">薬</text><text x="1233.63" y="753.20" textLength="13.43" lengthAdjust="spacingAndGlyphs">剤</text><text x="1247.07" y="753.20" textLength="13.43" lengthAdjust="spacingAndGlyphs">師</text><text x="1260.50" y="753.20" textLength="8.07" lengthAdjust="spacingAndGlyphs">1</text><text x="1268.57" y="753.20" textLength="13.43" lengthAdjust="spacingAndGlyphs">人</text></g>
<g font-size="13.5" fill="#262626"><text x="1219.21" y="769.90" textLength="13.86" lengthAdjust="spacingAndGlyphs">当</text><text x="1233.07" y="769.90" textLength="10.81" lengthAdjust="spacingAndGlyphs">た</text><text x="1243.88" y="769.90" textLength="8.18" lengthAdjust="spacingAndGlyphs">り</text><text x="1252.06" y="769.90" textLength="11.36" lengthAdjust="spacingAndGlyphs">の</text><text x="1263.42" y="769.90" textLength="13.86" lengthAdjust="spacingAndGlyphs">技</text><text x="1277.28" y="769.90" textLength="13.86" lengthAdjust="spacingAndGlyphs">術</text><text x="1291.14" y="769.90" textLength="13.86" lengthAdjust="spacingAndGlyphs">料</text></g>
<g font-size="13.5" fill="#262626"><text x="1220.20" y="813.80" textLength="14.11" lengthAdjust="spacingAndGlyphs">薬</text><text x="1234.31" y="813.80" textLength="14.11" lengthAdjust="spacingAndGlyphs">剤</text><text x="1248.42" y="813.80" textLength="14.11" lengthAdjust="spacingAndGlyphs">師</text><text x="1262.53" y="813.80" textLength="14.11" lengthAdjust="spacingAndGlyphs">１</text><text x="1276.64" y="813.80" textLength="14.11" lengthAdjust="spacingAndGlyphs">人</text><text x="1290.75" y="813.80" textLength="14.11" lengthAdjust="spacingAndGlyphs">当</text><text x="1304.85" y="813.80" textLength="11.01" lengthAdjust="spacingAndGlyphs">た</text><text x="1315.86" y="813.80" textLength="8.32" lengthAdjust="spacingAndGlyphs">り</text></g>
<g font-size="13.5" fill="#262626"><text x="1220.20" y="829.90" textLength="11.17" lengthAdjust="spacingAndGlyphs">の</text><text x="1231.37" y="829.90" textLength="13.63" lengthAdjust="spacingAndGlyphs">処</text><text x="1245.00" y="829.90" textLength="13.63" lengthAdjust="spacingAndGlyphs">方</text><text x="1258.62" y="829.90" textLength="13.63" lengthAdjust="spacingAndGlyphs">箋</text><text x="1272.25" y="829.90" textLength="13.63" lengthAdjust="spacingAndGlyphs">枚</text><text x="1285.87" y="829.90" textLength="13.63" lengthAdjust="spacingAndGlyphs">数</text></g>
<g font-size="13" font-family="'Liberation Serif', serif" fill="#4a4a4a"><text x="637.00" y="901.50">(</text><text x="643.02" y="901.50" textLength="15.45" lengthAdjust="spacingAndGlyphs">出</text><text x="658.47" y="901.50" textLength="15.45" lengthAdjust="spacingAndGlyphs">所</text><text x="675.62" y="901.50">)</text><text x="681.65" y="901.50" textLength="15.45" lengthAdjust="spacingAndGlyphs">厚</text><text x="697.10" y="901.50" textLength="15.45" lengthAdjust="spacingAndGlyphs">生</text><text x="712.55" y="901.50" textLength="15.45" lengthAdjust="spacingAndGlyphs">労</text><text x="728.00" y="901.50" textLength="15.45" lengthAdjust="spacingAndGlyphs">働</text><text x="743.45" y="901.50" textLength="15.45" lengthAdjust="spacingAndGlyphs">省</text><text x="758.90" y="901.50" textLength="7.72" lengthAdjust="spacingAndGlyphs">「</text><text x="766.62" y="901.50" textLength="15.45" lengthAdjust="spacingAndGlyphs">調</text><text x="782.07" y="901.50" textLength="15.45" lengthAdjust="spacingAndGlyphs">剤</text><text x="797.52" y="901.50" textLength="15.45" lengthAdjust="spacingAndGlyphs">医</text><text x="812.97" y="901.50" textLength="15.45" lengthAdjust="spacingAndGlyphs">療</text><text x="828.42" y="901.50" textLength="15.45" lengthAdjust="spacingAndGlyphs">費</text><text x="845.56" y="901.50">(</text><text x="851.59" y="901.50" textLength="15.45" lengthAdjust="spacingAndGlyphs">電</text><text x="867.04" y="901.50" textLength="15.45" lengthAdjust="spacingAndGlyphs">算</text><text x="882.49" y="901.50" textLength="15.45" lengthAdjust="spacingAndGlyphs">処</text><text x="897.94" y="901.50" textLength="15.45" lengthAdjust="spacingAndGlyphs">理</text><text x="913.39" y="901.50" textLength="15.45" lengthAdjust="spacingAndGlyphs">分</text><text x="930.54" y="901.50">)</text><text x="936.56" y="901.50" textLength="12.67" lengthAdjust="spacingAndGlyphs">の</text><text x="949.23" y="901.50" textLength="15.45" lengthAdjust="spacingAndGlyphs">動</text><text x="964.68" y="901.50" textLength="15.45" lengthAdjust="spacingAndGlyphs">向</text><text x="980.13" y="901.50" textLength="7.72" lengthAdjust="spacingAndGlyphs">」</text><text x="987.85" y="901.50" textLength="9.58" lengthAdjust="spacingAndGlyphs">、</text><text x="997.43" y="901.50" textLength="15.45" lengthAdjust="spacingAndGlyphs">厚</text><text x="1012.88" y="901.50" textLength="15.45" lengthAdjust="spacingAndGlyphs">生</text><text x="1028.33" y="901.50" textLength="15.45" lengthAdjust="spacingAndGlyphs">労</text><text x="1043.78" y="901.50" textLength="15.45" lengthAdjust="spacingAndGlyphs">働</text><text x="1059.23" y="901.50" textLength="15.45" lengthAdjust="spacingAndGlyphs">省</text><text x="1074.68" y="901.50" textLength="7.72" lengthAdjust="spacingAndGlyphs">「</text><text x="1082.41" y="901.50" textLength="15.45" lengthAdjust="spacingAndGlyphs">医</text><text x="1097.85" y="901.50" textLength="15.45" lengthAdjust="spacingAndGlyphs">師</text><text x="1113.30" y="901.50" textLength="6.49" lengthAdjust="spacingAndGlyphs">・</text><text x="1119.79" y="901.50" textLength="15.45" lengthAdjust="spacingAndGlyphs">歯</text><text x="1135.24" y="901.50" textLength="15.45" lengthAdjust="spacingAndGlyphs">科</text><text x="1150.69" y="901.50" textLength="15.45" lengthAdjust="spacingAndGlyphs">医</text><text x="1166.14" y="901.50" textLength="15.45" lengthAdjust="spacingAndGlyphs">師</text><text x="1181.59" y="901.50" textLength="6.49" lengthAdjust="spacingAndGlyphs">・</text><text x="1188.08" y="901.50" textLength="15.45" lengthAdjust="spacingAndGlyphs">薬</text><text x="1203.53" y="901.50" textLength="15.45" lengthAdjust="spacingAndGlyphs">剤</text><text x="1218.98" y="901.50" textLength="15.45" lengthAdjust="spacingAndGlyphs">師</text><text x="1234.43" y="901.50" textLength="15.45" lengthAdjust="spacingAndGlyphs">統</text><text x="1249.88" y="901.50" textLength="15.45" lengthAdjust="spacingAndGlyphs">計</text><text x="1265.33" y="901.50" textLength="7.72" lengthAdjust="spacingAndGlyphs">」</text><text x="1273.05" y="901.50" textLength="15.45" lengthAdjust="spacingAndGlyphs">等</text></g>
<g font-size="13" font-family="'Liberation Serif', serif" fill="#4a4a4a"><text x="637.11" y="918.80">(</text><text x="643.25" y="918.80" textLength="15.90" lengthAdjust="spacingAndGlyphs">注</text><text x="660.97" y="918.80">)</text><text x="667.11" y="918.80" textLength="15.90" lengthAdjust="spacingAndGlyphs">薬</text><text x="683.01" y="918.80" textLength="15.90" lengthAdjust="spacingAndGlyphs">剤</text><text x="698.92" y="918.80" textLength="15.90" lengthAdjust="spacingAndGlyphs">師</text><text x="714.82" y="918.80" textLength="15.90" lengthAdjust="spacingAndGlyphs">数</text><text x="730.72" y="918.80" textLength="13.04" lengthAdjust="spacingAndGlyphs">の</text><text x="743.77" y="918.80" textLength="15.90" lengthAdjust="spacingAndGlyphs">奇</text><text x="759.67" y="918.80" textLength="15.90" lengthAdjust="spacingAndGlyphs">数</text><text x="775.57" y="918.80" textLength="15.90" lengthAdjust="spacingAndGlyphs">年</text><text x="791.48" y="918.80" textLength="15.90" lengthAdjust="spacingAndGlyphs">度</text><text x="807.38" y="918.80" textLength="13.04" lengthAdjust="spacingAndGlyphs">は</text><text x="820.42" y="918.80" textLength="9.86" lengthAdjust="spacingAndGlyphs">、</text><text x="830.28" y="918.80" textLength="15.90" lengthAdjust="spacingAndGlyphs">直</text><text x="846.19" y="918.80" textLength="15.90" lengthAdjust="spacingAndGlyphs">近</text><text x="862.09" y="918.80" textLength="15.90" lengthAdjust="spacingAndGlyphs">年</text><text x="877.99" y="918.80" textLength="15.90" lengthAdjust="spacingAndGlyphs">度</text><text x="893.90" y="918.80" textLength="12.72" lengthAdjust="spacingAndGlyphs">か</text><text x="906.62" y="918.80" textLength="11.13" lengthAdjust="spacingAndGlyphs">ら</text><text x="917.75" y="918.80" textLength="13.04" lengthAdjust="spacingAndGlyphs">の</text><text x="930.80" y="918.80" textLength="15.90" lengthAdjust="spacingAndGlyphs">推</text><text x="946.70" y="918.80" textLength="15.90" lengthAdjust="spacingAndGlyphs">計</text><text x="962.60" y="918.80" textLength="15.90" lengthAdjust="spacingAndGlyphs">値</text><text x="978.51" y="918.80" textLength="9.86" lengthAdjust="spacingAndGlyphs">。</text></g>
</svg></body></html>
